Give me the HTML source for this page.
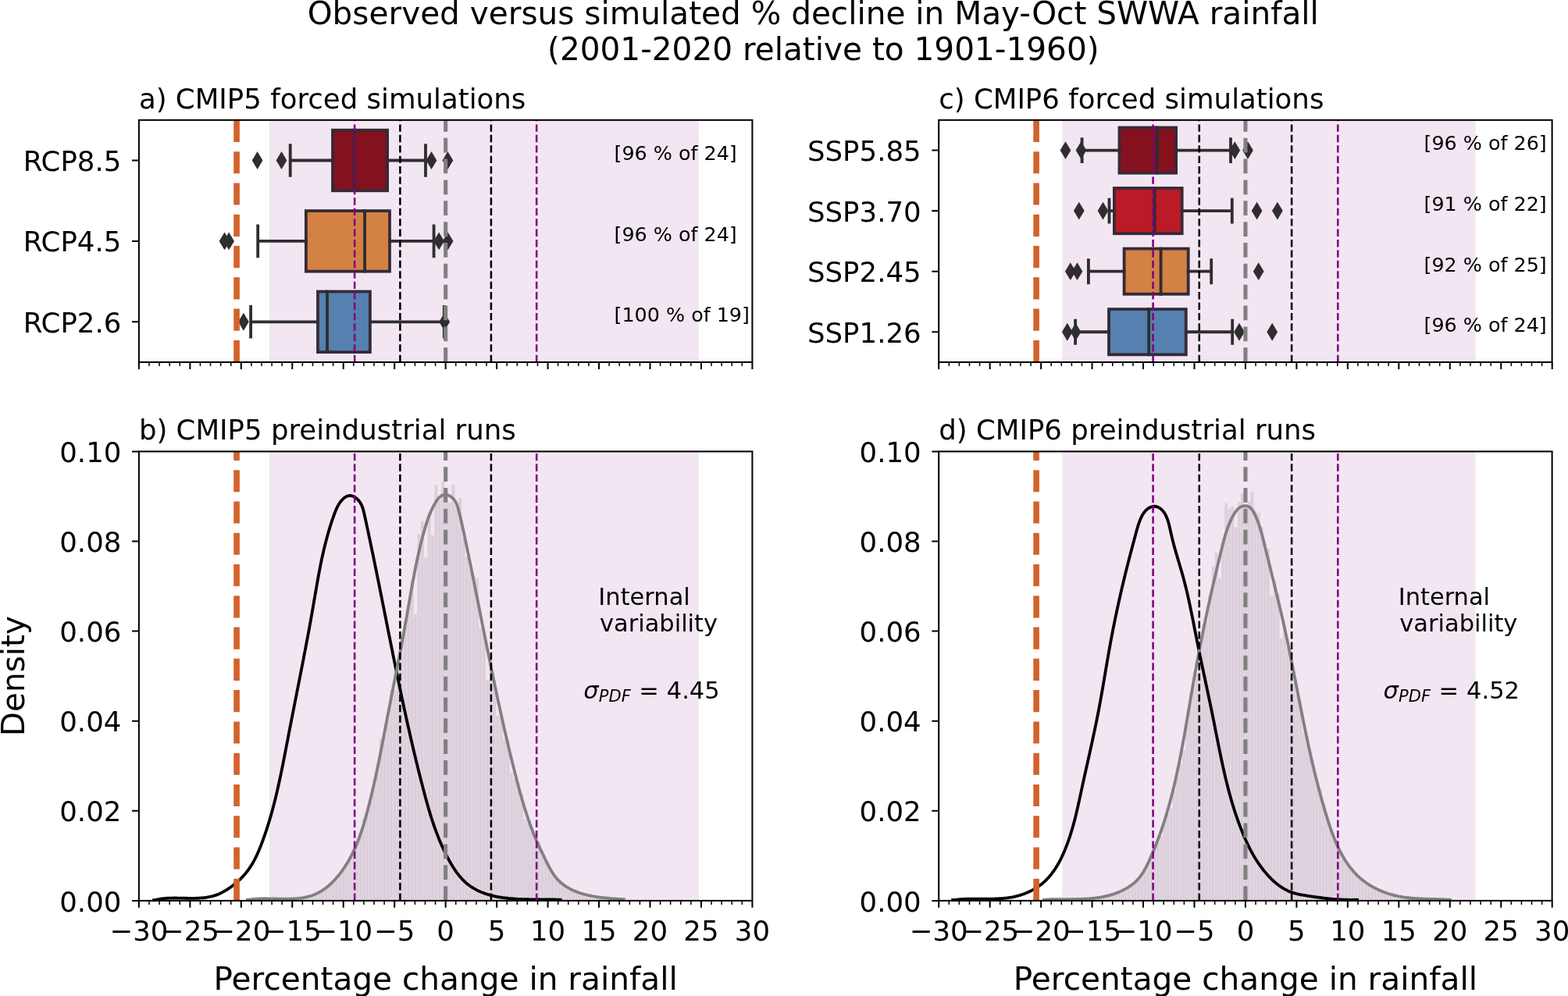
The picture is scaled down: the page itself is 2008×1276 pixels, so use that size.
<!DOCTYPE html>
<html><head><meta charset="utf-8"><title>Observed versus simulated % decline in May-Oct SWWA rainfall</title>
<style>html,body{margin:0;padding:0;background:#fff;}svg{display:block;}text{font-family:"DejaVu Sans","Liberation Sans",sans-serif;}</style>
</head><body>
<svg xmlns="http://www.w3.org/2000/svg" width="2008" height="1276" viewBox="0 0 2008 1276">
<rect x="0" y="0" width="2008" height="1276" fill="#ffffff"/>
<rect x="344.82" y="153.8" width="550.11" height="310.2" fill="#f2e6f2"/>
<rect x="344.82" y="578.4" width="550.11" height="575.5" fill="#f2e6f2"/>
<rect x="1360.22" y="153.8" width="529.3" height="310.2" fill="#f2e6f2"/>
<rect x="1360.22" y="578.4" width="529.3" height="575.5" fill="#f2e6f2"/>
<path d="M371.6 1153.9 L371.6 1151.28 L375.99 1151.28 L375.99 1153.9 L375.99 1153.9 L375.99 1151.56 L380.38 1151.56 L380.38 1153.9 L380.38 1153.9 L380.38 1150.81 L384.77 1150.81 L384.77 1153.9 L384.77 1153.9 L384.77 1150.38 L389.17 1150.38 L389.17 1153.9 L389.17 1153.9 L389.17 1149.59 L393.56 1149.59 L393.56 1153.9 L393.56 1153.9 L393.56 1148.5 L397.95 1148.5 L397.95 1153.9 L397.95 1153.9 L397.95 1147.7 L402.34 1147.7 L402.34 1153.9 L402.34 1153.9 L402.34 1145.41 L406.74 1145.41 L406.74 1153.9 L406.74 1153.9 L406.74 1143.56 L411.13 1143.56 L411.13 1153.9 L411.13 1153.9 L411.13 1138.47 L415.52 1138.47 L415.52 1153.9 L415.52 1153.9 L415.52 1137.22 L419.91 1137.22 L419.91 1153.9 L419.91 1153.9 L419.91 1134.1 L424.3 1134.1 L424.3 1153.9 L424.3 1153.9 L424.3 1129.96 L428.7 1129.96 L428.7 1153.9 L428.7 1153.9 L428.7 1125.85 L433.09 1125.85 L433.09 1153.9 L433.09 1153.9 L433.09 1121.33 L437.48 1121.33 L437.48 1153.9 L437.48 1153.9 L437.48 1114.46 L441.87 1114.46 L441.87 1153.9 L441.87 1153.9 L441.87 1106.06 L446.27 1106.06 L446.27 1153.9 L446.27 1153.9 L446.27 1100.15 L450.66 1100.15 L450.66 1153.9 L450.66 1153.9 L450.66 1088.26 L455.05 1088.26 L455.05 1153.9 L455.05 1153.9 L455.05 1081.76 L459.44 1081.76 L459.44 1153.9 L459.44 1153.9 L459.44 1069.48 L463.84 1069.48 L463.84 1153.9 L463.84 1153.9 L463.84 1049.22 L468.23 1049.22 L468.23 1153.9 L468.23 1153.9 L468.23 1037.8 L472.62 1037.8 L472.62 1153.9 L472.62 1153.9 L472.62 1026.51 L477.01 1026.51 L477.01 1153.9 L477.01 1153.9 L477.01 1006.1 L481.4 1006.1 L481.4 1153.9 L481.4 1153.9 L481.4 980.5 L485.8 980.5 L485.8 1153.9 L485.8 1153.9 L485.8 946.31 L490.19 946.31 L490.19 1153.9 L490.19 1153.9 L490.19 943.22 L494.58 943.22 L494.58 1153.9 L494.58 1153.9 L494.58 920.47 L498.97 920.47 L498.97 1153.9 L498.97 1153.9 L498.97 883.72 L503.37 883.72 L503.37 1153.9 L503.37 1153.9 L503.37 884.74 L507.76 884.74 L507.76 1153.9 L507.76 1153.9 L507.76 855.34 L512.15 855.34 L512.15 1153.9 L512.15 1153.9 L512.15 815.69 L516.54 815.69 L516.54 1153.9 L516.54 1153.9 L516.54 795.99 L520.93 795.99 L520.93 1153.9 L520.93 1153.9 L520.93 778.79 L525.33 778.79 L525.33 1153.9 L525.33 1153.9 L525.33 743.41 L529.72 743.41 L529.72 1153.9 L529.72 1153.9 L529.72 786.67 L534.11 786.67 L534.11 1153.9 L534.11 1153.9 L534.11 684.2 L538.5 684.2 L538.5 1153.9 L538.5 1153.9 L538.5 667.7 L542.9 667.7 L542.9 1153.9 L542.9 1153.9 L542.9 714.61 L547.29 714.61 L547.29 1153.9 L547.29 1153.9 L547.29 657.3 L551.68 657.3 L551.68 1153.9 L551.68 1153.9 L551.68 685.8 L556.07 685.8 L556.07 1153.9 L556.07 1153.9 L556.07 621.1 L560.46 621.1 L560.46 1153.9 L560.46 1153.9 L560.46 641 L564.86 641 L564.86 1153.9 L564.86 1153.9 L564.86 617.1 L569.25 617.1 L569.25 1153.9 L569.25 1153.9 L569.25 625 L573.64 625 L573.64 1153.9 L573.64 1153.9 L573.64 643.6 L578.03 643.6 L578.03 1153.9 L578.03 1153.9 L578.03 621.1 L582.43 621.1 L582.43 1153.9 L582.43 1153.9 L582.43 648 L586.82 648 L586.82 1153.9 L586.82 1153.9 L586.82 638.1 L591.21 638.1 L591.21 1153.9 L591.21 1153.9 L591.21 688.93 L595.6 688.93 L595.6 1153.9 L595.6 1153.9 L595.6 713.3 L599.99 713.3 L599.99 1153.9 L599.99 1153.9 L599.99 728.6 L604.39 728.6 L604.39 1153.9 L604.39 1153.9 L604.39 737.17 L608.78 737.17 L608.78 1153.9 L608.78 1153.9 L608.78 740.7 L613.17 740.7 L613.17 1153.9 L613.17 1153.9 L613.17 804.4 L617.56 804.4 L617.56 1153.9 L617.56 1153.9 L617.56 809.75 L621.96 809.75 L621.96 1153.9 L621.96 1153.9 L621.96 871.07 L626.35 871.07 L626.35 1153.9 L626.35 1153.9 L626.35 846.9 L630.74 846.9 L630.74 1153.9 L630.74 1153.9 L630.74 871 L635.13 871 L635.13 1153.9 L635.13 1153.9 L635.13 916.75 L639.53 916.75 L639.53 1153.9 L639.53 1153.9 L639.53 916.94 L643.92 916.94 L643.92 1153.9 L643.92 1153.9 L643.92 946.46 L648.31 946.46 L648.31 1153.9 L648.31 1153.9 L648.31 948.88 L652.7 948.88 L652.7 1153.9 L652.7 1153.9 L652.7 990.48 L657.09 990.48 L657.09 1153.9 L657.09 1153.9 L657.09 998.09 L661.49 998.09 L661.49 1153.9 L661.49 1153.9 L661.49 1003.43 L665.88 1003.43 L665.88 1153.9 L665.88 1153.9 L665.88 1017.05 L670.27 1017.05 L670.27 1153.9 L670.27 1153.9 L670.27 1049.7 L674.66 1049.7 L674.66 1153.9 L674.66 1153.9 L674.66 1053.88 L679.06 1053.88 L679.06 1153.9 L679.06 1153.9 L679.06 1062.18 L683.45 1062.18 L683.45 1153.9 L683.45 1153.9 L683.45 1076.6 L687.84 1076.6 L687.84 1153.9 L687.84 1153.9 L687.84 1079.26 L692.23 1079.26 L692.23 1153.9 L692.23 1153.9 L692.23 1096.8 L696.62 1096.8 L696.62 1153.9 L696.62 1153.9 L696.62 1101.77 L701.02 1101.77 L701.02 1153.9 L701.02 1153.9 L701.02 1113.19 L705.41 1113.19 L705.41 1153.9 L705.41 1153.9 L705.41 1116.29 L709.8 1116.29 L709.8 1153.9 L709.8 1153.9 L709.8 1124.61 L714.19 1124.61 L714.19 1153.9 L714.19 1153.9 L714.19 1129.74 L718.59 1129.74 L718.59 1153.9 L718.59 1153.9 L718.59 1134.71 L722.98 1134.71 L722.98 1153.9 L722.98 1153.9 L722.98 1134.79 L727.37 1134.79 L727.37 1153.9 L727.37 1153.9 L727.37 1138.15 L731.76 1138.15 L731.76 1153.9 L731.76 1153.9 L731.76 1140.37 L736.15 1140.37 L736.15 1153.9 L736.15 1153.9 L736.15 1142.04 L740.55 1142.04 L740.55 1153.9 L740.55 1153.9 L740.55 1144.01 L744.94 1144.01 L744.94 1153.9 L744.94 1153.9 L744.94 1145.73 L749.33 1145.73 L749.33 1153.9 L749.33 1153.9 L749.33 1146.89 L753.72 1146.89 L753.72 1153.9 L753.72 1153.9 L753.72 1147.82 L758.12 1147.82 L758.12 1153.9 L758.12 1153.9 L758.12 1148.09 L762.51 1148.09 L762.51 1153.9 L762.51 1153.9 L762.51 1149.46 L766.9 1149.46 L766.9 1153.9 L766.9 1153.9 L766.9 1149.86 L771.29 1149.86 L771.29 1153.9 L771.29 1153.9 L771.29 1150.32 L775.69 1150.32 L775.69 1153.9 L775.69 1153.9 L775.69 1150.68 L780.08 1150.68 L780.08 1153.9 L780.08 1153.9 L780.08 1151.02 L784.47 1151.02 L784.47 1153.9 L784.47 1153.9 L784.47 1151.57 L788.86 1151.57 L788.86 1153.9 L788.86 1153.9 L788.86 1151.9 L793.25 1151.9 L793.25 1153.9 Z" fill="#dccfdc"/>
<path d="M371.6 1153.9V1151.28M375.99 1153.9V1151.56M380.38 1153.9V1150.81M384.77 1153.9V1150.38M389.17 1153.9V1149.59M393.56 1153.9V1148.5M397.95 1153.9V1147.7M402.34 1153.9V1145.41M406.74 1153.9V1143.56M411.13 1153.9V1138.47M415.52 1153.9V1137.22M419.91 1153.9V1134.1M424.3 1153.9V1129.96M428.7 1153.9V1125.85M433.09 1153.9V1121.33M437.48 1153.9V1114.46M441.87 1153.9V1106.06M446.27 1153.9V1100.15M450.66 1153.9V1088.26M455.05 1153.9V1081.76M459.44 1153.9V1069.48M463.84 1153.9V1049.22M468.23 1153.9V1037.8M472.62 1153.9V1026.51M477.01 1153.9V1006.1M481.4 1153.9V980.5M485.8 1153.9V946.31M490.19 1153.9V943.22M494.58 1153.9V920.47M498.97 1153.9V883.72M503.37 1153.9V884.74M507.76 1153.9V855.34M512.15 1153.9V815.69M516.54 1153.9V795.99M520.93 1153.9V778.79M525.33 1153.9V743.41M529.72 1153.9V786.67M534.11 1153.9V684.2M538.5 1153.9V667.7M542.9 1153.9V714.61M547.29 1153.9V657.3M551.68 1153.9V685.8M556.07 1153.9V621.1M560.46 1153.9V641M564.86 1153.9V617.1M569.25 1153.9V625M573.64 1153.9V643.6M578.03 1153.9V621.1M582.43 1153.9V648M586.82 1153.9V638.1M591.21 1153.9V688.93M595.6 1153.9V713.3M599.99 1153.9V728.6M604.39 1153.9V737.17M608.78 1153.9V740.7M613.17 1153.9V804.4M617.56 1153.9V809.75M621.96 1153.9V871.07M626.35 1153.9V846.9M630.74 1153.9V871M635.13 1153.9V916.75M639.53 1153.9V916.94M643.92 1153.9V946.46M648.31 1153.9V948.88M652.7 1153.9V990.48M657.09 1153.9V998.09M661.49 1153.9V1003.43M665.88 1153.9V1017.05M670.27 1153.9V1049.7M674.66 1153.9V1053.88M679.06 1153.9V1062.18M683.45 1153.9V1076.6M687.84 1153.9V1079.26M692.23 1153.9V1096.8M696.62 1153.9V1101.77M701.02 1153.9V1113.19M705.41 1153.9V1116.29M709.8 1153.9V1124.61M714.19 1153.9V1129.74M718.59 1153.9V1134.71M722.98 1153.9V1134.79M727.37 1153.9V1138.15M731.76 1153.9V1140.37M736.15 1153.9V1142.04M740.55 1153.9V1144.01M744.94 1153.9V1145.73M749.33 1153.9V1146.89M753.72 1153.9V1147.82M758.12 1153.9V1148.09M762.51 1153.9V1149.46M766.9 1153.9V1149.86M771.29 1153.9V1150.32M775.69 1153.9V1150.68M780.08 1153.9V1151.02M784.47 1153.9V1151.57M788.86 1153.9V1151.9" stroke="#ffffff" stroke-opacity="0.3" stroke-width="0.8" fill="none"/>
<path d="M1397.84 1153.9 L1397.84 1150.8 L1401.99 1150.8 L1401.99 1153.9 L1401.99 1153.9 L1401.99 1150.09 L1406.14 1150.09 L1406.14 1153.9 L1406.14 1153.9 L1406.14 1149.47 L1410.29 1149.47 L1410.29 1153.9 L1410.29 1153.9 L1410.29 1149.08 L1414.44 1149.08 L1414.44 1153.9 L1414.44 1153.9 L1414.44 1148.16 L1418.59 1148.16 L1418.59 1153.9 L1418.59 1153.9 L1418.59 1147.21 L1422.74 1147.21 L1422.74 1153.9 L1422.74 1153.9 L1422.74 1145.62 L1426.89 1145.62 L1426.89 1153.9 L1426.89 1153.9 L1426.89 1144.45 L1431.04 1144.45 L1431.04 1153.9 L1431.04 1153.9 L1431.04 1142.43 L1435.19 1142.43 L1435.19 1153.9 L1435.19 1153.9 L1435.19 1142.05 L1439.34 1142.05 L1439.34 1153.9 L1439.34 1153.9 L1439.34 1137.78 L1443.49 1137.78 L1443.49 1153.9 L1443.49 1153.9 L1443.49 1136.49 L1447.64 1136.49 L1447.64 1153.9 L1447.64 1153.9 L1447.64 1132.92 L1451.79 1132.92 L1451.79 1153.9 L1451.79 1153.9 L1451.79 1130.28 L1455.94 1130.28 L1455.94 1153.9 L1455.94 1153.9 L1455.94 1126.35 L1460.09 1126.35 L1460.09 1153.9 L1460.09 1153.9 L1460.09 1119.77 L1464.24 1119.77 L1464.24 1153.9 L1464.24 1153.9 L1464.24 1112.22 L1468.39 1112.22 L1468.39 1153.9 L1468.39 1153.9 L1468.39 1106.03 L1472.54 1106.03 L1472.54 1153.9 L1472.54 1153.9 L1472.54 1096.92 L1476.69 1096.92 L1476.69 1153.9 L1476.69 1153.9 L1476.69 1084.71 L1480.84 1084.71 L1480.84 1153.9 L1480.84 1153.9 L1480.84 1079.39 L1484.99 1079.39 L1484.99 1153.9 L1484.99 1153.9 L1484.99 1071.1 L1489.14 1071.1 L1489.14 1153.9 L1489.14 1153.9 L1489.14 1050.81 L1493.29 1050.81 L1493.29 1153.9 L1493.29 1153.9 L1493.29 1042.6 L1497.44 1042.6 L1497.44 1153.9 L1497.44 1153.9 L1497.44 1035.52 L1501.59 1035.52 L1501.59 1153.9 L1501.59 1153.9 L1501.59 1013.13 L1505.74 1013.13 L1505.74 1153.9 L1505.74 1153.9 L1505.74 992.93 L1509.89 992.93 L1509.89 1153.9 L1509.89 1153.9 L1509.89 979.22 L1514.04 979.22 L1514.04 1153.9 L1514.04 1153.9 L1514.04 961.12 L1518.19 961.12 L1518.19 1153.9 L1518.19 1153.9 L1518.19 923.13 L1522.34 923.13 L1522.34 1153.9 L1522.34 1153.9 L1522.34 888.95 L1526.49 888.95 L1526.49 1153.9 L1526.49 1153.9 L1526.49 878.58 L1530.64 878.58 L1530.64 1153.9 L1530.64 1153.9 L1530.64 863.17 L1534.79 863.17 L1534.79 1153.9 L1534.79 1153.9 L1534.79 825.75 L1538.94 825.75 L1538.94 1153.9 L1538.94 1153.9 L1538.94 799.52 L1543.09 799.52 L1543.09 1153.9 L1543.09 1153.9 L1543.09 795.81 L1547.24 795.81 L1547.24 1153.9 L1547.24 1153.9 L1547.24 762.33 L1551.39 762.33 L1551.39 1153.9 L1551.39 1153.9 L1551.39 724.9 L1555.54 724.9 L1555.54 1153.9 L1555.54 1153.9 L1555.54 707.9 L1559.69 707.9 L1559.69 1153.9 L1559.69 1153.9 L1559.69 740.8 L1563.84 740.8 L1563.84 1153.9 L1563.84 1153.9 L1563.84 694.96 L1567.99 694.96 L1567.99 1153.9 L1567.99 1153.9 L1567.99 644.8 L1572.14 644.8 L1572.14 1153.9 L1572.14 1153.9 L1572.14 651.99 L1576.29 651.99 L1576.29 1153.9 L1576.29 1153.9 L1576.29 649.2 L1580.44 649.2 L1580.44 1153.9 L1580.44 1153.9 L1580.44 675.18 L1584.59 675.18 L1584.59 1153.9 L1584.59 1153.9 L1584.59 643.2 L1588.74 643.2 L1588.74 1153.9 L1588.74 1153.9 L1588.74 632.2 L1592.89 632.2 L1592.89 1153.9 L1592.89 1153.9 L1592.89 650.26 L1597.04 650.26 L1597.04 1153.9 L1597.04 1153.9 L1597.04 642.21 L1601.19 642.21 L1601.19 1153.9 L1601.19 1153.9 L1601.19 630 L1605.34 630 L1605.34 1153.9 L1605.34 1153.9 L1605.34 654.1 L1609.49 654.1 L1609.49 1153.9 L1609.49 1153.9 L1609.49 657.28 L1613.64 657.28 L1613.64 1153.9 L1613.64 1153.9 L1613.64 675 L1617.79 675 L1617.79 1153.9 L1617.79 1153.9 L1617.79 696.29 L1621.95 696.29 L1621.95 1153.9 L1621.95 1153.9 L1621.95 702.47 L1626.1 702.47 L1626.1 1153.9 L1626.1 1153.9 L1626.1 763.08 L1630.25 763.08 L1630.25 1153.9 L1630.25 1153.9 L1630.25 743.42 L1634.4 743.42 L1634.4 1153.9 L1634.4 1153.9 L1634.4 760.99 L1638.55 760.99 L1638.55 1153.9 L1638.55 1153.9 L1638.55 818.16 L1642.7 818.16 L1642.7 1153.9 L1642.7 1153.9 L1642.7 801.43 L1646.85 801.43 L1646.85 1153.9 L1646.85 1153.9 L1646.85 829.68 L1651 829.68 L1651 1153.9 L1651 1153.9 L1651 834.95 L1655.15 834.95 L1655.15 1153.9 L1655.15 1153.9 L1655.15 872.25 L1659.3 872.25 L1659.3 1153.9 L1659.3 1153.9 L1659.3 887.69 L1663.45 887.69 L1663.45 1153.9 L1663.45 1153.9 L1663.45 904.57 L1667.6 904.57 L1667.6 1153.9 L1667.6 1153.9 L1667.6 937.86 L1671.75 937.86 L1671.75 1153.9 L1671.75 1153.9 L1671.75 943.08 L1675.9 943.08 L1675.9 1153.9 L1675.9 1153.9 L1675.9 968.38 L1680.05 968.38 L1680.05 1153.9 L1680.05 1153.9 L1680.05 981.5 L1684.2 981.5 L1684.2 1153.9 L1684.2 1153.9 L1684.2 1005.61 L1688.35 1005.61 L1688.35 1153.9 L1688.35 1153.9 L1688.35 1011 L1692.5 1011 L1692.5 1153.9 L1692.5 1153.9 L1692.5 1029.15 L1696.65 1029.15 L1696.65 1153.9 L1696.65 1153.9 L1696.65 1047.24 L1700.8 1047.24 L1700.8 1153.9 L1700.8 1153.9 L1700.8 1056.49 L1704.95 1056.49 L1704.95 1153.9 L1704.95 1153.9 L1704.95 1065.95 L1709.1 1065.95 L1709.1 1153.9 L1709.1 1153.9 L1709.1 1074.89 L1713.25 1074.89 L1713.25 1153.9 L1713.25 1153.9 L1713.25 1094.26 L1717.4 1094.26 L1717.4 1153.9 L1717.4 1153.9 L1717.4 1095.12 L1721.55 1095.12 L1721.55 1153.9 L1721.55 1153.9 L1721.55 1103.07 L1725.7 1103.07 L1725.7 1153.9 L1725.7 1153.9 L1725.7 1110.22 L1729.85 1110.22 L1729.85 1153.9 L1729.85 1153.9 L1729.85 1117 L1734 1117 L1734 1153.9 L1734 1153.9 L1734 1117.85 L1738.15 1117.85 L1738.15 1153.9 L1738.15 1153.9 L1738.15 1125.55 L1742.3 1125.55 L1742.3 1153.9 L1742.3 1153.9 L1742.3 1126.71 L1746.45 1126.71 L1746.45 1153.9 L1746.45 1153.9 L1746.45 1129.15 L1750.6 1129.15 L1750.6 1153.9 L1750.6 1153.9 L1750.6 1134.81 L1754.75 1134.81 L1754.75 1153.9 L1754.75 1153.9 L1754.75 1136.04 L1758.9 1136.04 L1758.9 1153.9 L1758.9 1153.9 L1758.9 1138.95 L1763.05 1138.95 L1763.05 1153.9 L1763.05 1153.9 L1763.05 1139.84 L1767.2 1139.84 L1767.2 1153.9 L1767.2 1153.9 L1767.2 1140.95 L1771.35 1140.95 L1771.35 1153.9 L1771.35 1153.9 L1771.35 1142.41 L1775.5 1142.41 L1775.5 1153.9 L1775.5 1153.9 L1775.5 1145.53 L1779.65 1145.53 L1779.65 1153.9 L1779.65 1153.9 L1779.65 1146.27 L1783.8 1146.27 L1783.8 1153.9 L1783.8 1153.9 L1783.8 1146.95 L1787.95 1146.95 L1787.95 1153.9 L1787.95 1153.9 L1787.95 1147.71 L1792.1 1147.71 L1792.1 1153.9 L1792.1 1153.9 L1792.1 1148.85 L1796.25 1148.85 L1796.25 1153.9 L1796.25 1153.9 L1796.25 1149.77 L1800.4 1149.77 L1800.4 1153.9 L1800.4 1153.9 L1800.4 1150.13 L1804.55 1150.13 L1804.55 1153.9 L1804.55 1153.9 L1804.55 1150.63 L1808.7 1150.63 L1808.7 1153.9 L1808.7 1153.9 L1808.7 1151 L1812.85 1151 L1812.85 1153.9 L1812.85 1153.9 L1812.85 1151.33 L1817 1151.33 L1817 1153.9 L1817 1153.9 L1817 1151.41 L1821.15 1151.41 L1821.15 1153.9 Z" fill="#dccfdc"/>
<path d="M1397.84 1153.9V1150.8M1401.99 1153.9V1150.09M1406.14 1153.9V1149.47M1410.29 1153.9V1149.08M1414.44 1153.9V1148.16M1418.59 1153.9V1147.21M1422.74 1153.9V1145.62M1426.89 1153.9V1144.45M1431.04 1153.9V1142.43M1435.19 1153.9V1142.05M1439.34 1153.9V1137.78M1443.49 1153.9V1136.49M1447.64 1153.9V1132.92M1451.79 1153.9V1130.28M1455.94 1153.9V1126.35M1460.09 1153.9V1119.77M1464.24 1153.9V1112.22M1468.39 1153.9V1106.03M1472.54 1153.9V1096.92M1476.69 1153.9V1084.71M1480.84 1153.9V1079.39M1484.99 1153.9V1071.1M1489.14 1153.9V1050.81M1493.29 1153.9V1042.6M1497.44 1153.9V1035.52M1501.59 1153.9V1013.13M1505.74 1153.9V992.93M1509.89 1153.9V979.22M1514.04 1153.9V961.12M1518.19 1153.9V923.13M1522.34 1153.9V888.95M1526.49 1153.9V878.58M1530.64 1153.9V863.17M1534.79 1153.9V825.75M1538.94 1153.9V799.52M1543.09 1153.9V795.81M1547.24 1153.9V762.33M1551.39 1153.9V724.9M1555.54 1153.9V707.9M1559.69 1153.9V740.8M1563.84 1153.9V694.96M1567.99 1153.9V644.8M1572.14 1153.9V651.99M1576.29 1153.9V649.2M1580.44 1153.9V675.18M1584.59 1153.9V643.2M1588.74 1153.9V632.2M1592.89 1153.9V650.26M1597.04 1153.9V642.21M1601.19 1153.9V630M1605.34 1153.9V654.1M1609.49 1153.9V657.28M1613.64 1153.9V675M1617.79 1153.9V696.29M1621.95 1153.9V702.47M1626.1 1153.9V763.08M1630.25 1153.9V743.42M1634.4 1153.9V760.99M1638.55 1153.9V818.16M1642.7 1153.9V801.43M1646.85 1153.9V829.68M1651 1153.9V834.95M1655.15 1153.9V872.25M1659.3 1153.9V887.69M1663.45 1153.9V904.57M1667.6 1153.9V937.86M1671.75 1153.9V943.08M1675.9 1153.9V968.38M1680.05 1153.9V981.5M1684.2 1153.9V1005.61M1688.35 1153.9V1011M1692.5 1153.9V1029.15M1696.65 1153.9V1047.24M1700.8 1153.9V1056.49M1704.95 1153.9V1065.95M1709.1 1153.9V1074.89M1713.25 1153.9V1094.26M1717.4 1153.9V1095.12M1721.55 1153.9V1103.07M1725.7 1153.9V1110.22M1729.85 1153.9V1117M1734 1153.9V1117.85M1738.15 1153.9V1125.55M1742.3 1153.9V1126.71M1746.45 1153.9V1129.15M1750.6 1153.9V1134.81M1754.75 1153.9V1136.04M1758.9 1153.9V1138.95M1763.05 1153.9V1139.84M1767.2 1153.9V1140.95M1771.35 1153.9V1142.41M1775.5 1153.9V1145.53M1779.65 1153.9V1146.27M1783.8 1153.9V1146.95M1787.95 1153.9V1147.71M1792.1 1153.9V1148.85M1796.25 1153.9V1149.77M1800.4 1153.9V1150.13M1804.55 1153.9V1150.63M1808.7 1153.9V1151M1812.85 1153.9V1151.33M1817 1153.9V1151.41" stroke="#ffffff" stroke-opacity="0.3" stroke-width="0.8" fill="none"/>
<rect x="426" y="166.72" width="70.1" height="77.55" fill="#85111f" stroke="#362a37" stroke-width="3.81"/>
<rect x="391.9" y="270.12" width="107.1" height="77.55" fill="#d38244" stroke="#362a37" stroke-width="3.81"/>
<rect x="407" y="373.53" width="66.9" height="77.55" fill="#5580b0" stroke="#362a37" stroke-width="3.81"/>
<path d="M371.7 205.5H426M496.1 205.5H545M371.7 186.11V224.89M545 186.11V224.89M453.9 166.72V244.28" stroke="#2e2e2e" stroke-width="3.81" stroke-linecap="square" fill="none"/>
<path d="M329.6 194.05L336.47 205.5L329.6 216.95L322.73 205.5Z" fill="#2e2e2e"/>
<path d="M360.5 194.05L367.37 205.5L360.5 216.95L353.63 205.5Z" fill="#2e2e2e"/>
<path d="M552.5 194.05L559.37 205.5L552.5 216.95L545.63 205.5Z" fill="#2e2e2e"/>
<path d="M573.4 194.05L580.27 205.5L573.4 216.95L566.53 205.5Z" fill="#2e2e2e"/>
<path d="M330.2 308.9H391.9M499 308.9H555.6M330.2 289.51V328.29M555.6 289.51V328.29M467.1 270.12V347.67" stroke="#2e2e2e" stroke-width="3.81" stroke-linecap="square" fill="none"/>
<path d="M287.5 297.45L294.37 308.9L287.5 320.35L280.63 308.9Z" fill="#2e2e2e"/>
<path d="M293.1 297.45L299.97 308.9L293.1 320.35L286.23 308.9Z" fill="#2e2e2e"/>
<path d="M562.1 297.45L568.97 308.9L562.1 320.35L555.23 308.9Z" fill="#2e2e2e"/>
<path d="M573.6 297.45L580.47 308.9L573.6 320.35L566.73 308.9Z" fill="#2e2e2e"/>
<path d="M321.1 412.3H407M473.9 412.3H568.8M321.1 392.91V431.69M568.8 392.91V431.69M419 373.53V451.07" stroke="#2e2e2e" stroke-width="3.81" stroke-linecap="square" fill="none"/>
<path d="M311.9 400.85L318.77 412.3L311.9 423.75L305.03 412.3Z" fill="#2e2e2e"/>
<path d="M569.2 400.85L576.07 412.3L569.2 423.75L562.33 412.3Z" fill="#2e2e2e"/>
<rect x="1433.5" y="163.49" width="72.6" height="58.16" fill="#85111f" stroke="#362a37" stroke-width="3.81"/>
<rect x="1426.9" y="241.04" width="86.8" height="58.16" fill="#bb1a28" stroke="#362a37" stroke-width="3.81"/>
<rect x="1439.6" y="318.59" width="82.1" height="58.16" fill="#d38244" stroke="#362a37" stroke-width="3.81"/>
<rect x="1420" y="396.14" width="98.8" height="58.16" fill="#5580b0" stroke="#362a37" stroke-width="3.81"/>
<path d="M1385.6 192.58H1433.5M1506.1 192.58H1576M1385.6 178.03V207.12M1576 178.03V207.12M1481.7 163.49V221.66" stroke="#2e2e2e" stroke-width="3.81" stroke-linecap="square" fill="none"/>
<path d="M1364.5 181.13L1371.37 192.58L1364.5 204.03L1357.63 192.58Z" fill="#2e2e2e"/>
<path d="M1384.5 181.13L1391.37 192.58L1384.5 204.03L1377.63 192.58Z" fill="#2e2e2e"/>
<path d="M1581.3 181.13L1588.17 192.58L1581.3 204.03L1574.43 192.58Z" fill="#2e2e2e"/>
<path d="M1598 181.13L1604.87 192.58L1598 204.03L1591.13 192.58Z" fill="#2e2e2e"/>
<path d="M1420.5 270.12H1426.9M1513.7 270.12H1577.8M1420.5 255.58V284.67M1577.8 255.58V284.67M1478.6 241.04V299.21" stroke="#2e2e2e" stroke-width="3.81" stroke-linecap="square" fill="none"/>
<path d="M1381.8 258.68L1388.67 270.12L1381.8 281.57L1374.93 270.12Z" fill="#2e2e2e"/>
<path d="M1412.5 258.68L1419.37 270.12L1412.5 281.57L1405.63 270.12Z" fill="#2e2e2e"/>
<path d="M1609.6 258.68L1616.47 270.12L1609.6 281.57L1602.73 270.12Z" fill="#2e2e2e"/>
<path d="M1635.9 258.68L1642.77 270.12L1635.9 281.57L1629.03 270.12Z" fill="#2e2e2e"/>
<path d="M1393.9 347.68H1439.6M1521.7 347.68H1551.2M1393.9 333.13V362.22M1551.2 333.13V362.22M1486.6 318.59V376.76" stroke="#2e2e2e" stroke-width="3.81" stroke-linecap="square" fill="none"/>
<path d="M1370.8 336.23L1377.67 347.68L1370.8 359.12L1363.93 347.68Z" fill="#2e2e2e"/>
<path d="M1379.5 336.23L1386.37 347.68L1379.5 359.12L1372.63 347.68Z" fill="#2e2e2e"/>
<path d="M1611.7 336.23L1618.57 347.68L1611.7 359.12L1604.83 347.68Z" fill="#2e2e2e"/>
<path d="M1377.1 425.23H1420M1518.8 425.23H1578.2M1377.1 410.68V439.77M1578.2 410.68V439.77M1471.2 396.14V454.31" stroke="#2e2e2e" stroke-width="3.81" stroke-linecap="square" fill="none"/>
<path d="M1366.8 413.78L1373.67 425.23L1366.8 436.68L1359.93 425.23Z" fill="#2e2e2e"/>
<path d="M1377.5 413.78L1384.37 425.23L1377.5 436.68L1370.63 425.23Z" fill="#2e2e2e"/>
<path d="M1587 413.78L1593.87 425.23L1587 436.68L1580.13 425.23Z" fill="#2e2e2e"/>
<path d="M1629.2 413.78L1636.07 425.23L1629.2 436.68L1622.33 425.23Z" fill="#2e2e2e"/>
<path d="M195 1152.7 L197.13 1153.42 L199.55 1152.79 L202 1152.26 L204.48 1151.81 L207 1151.44 L209.54 1151.15 L212.1 1150.92 L214.69 1150.75 L217.29 1150.63 L219.91 1150.56 L222.55 1150.52 L225.19 1150.52 L227.85 1150.54 L230.51 1150.58 L233.18 1150.63 L235.85 1150.69 L238.52 1150.74 L241.19 1150.78 L243.86 1150.81 L246.51 1150.82 L249.16 1150.79 L251.8 1150.73 L254.42 1150.63 L257.02 1150.47 L259.61 1150.26 L262.17 1149.99 L264.71 1149.64 L267.23 1149.22 L269.71 1148.72 L272.16 1148.12 L274.59 1147.43 L276.97 1146.63 L279.32 1145.72 L281.63 1144.72 L283.9 1143.62 L286.14 1142.43 L288.34 1141.17 L290.51 1139.83 L292.65 1138.44 L294.75 1136.98 L296.82 1135.48 L298.86 1133.93 L300.86 1132.33 L302.82 1130.69 L304.74 1129.01 L306.61 1127.28 L308.44 1125.51 L310.22 1123.69 L311.95 1121.83 L313.62 1119.93 L315.23 1117.99 L316.79 1116.01 L318.28 1113.98 L319.72 1111.92 L321.1 1109.82 L322.43 1107.69 L323.71 1105.52 L324.94 1103.32 L326.13 1101.1 L327.27 1098.85 L328.38 1096.57 L329.45 1094.28 L330.49 1091.96 L331.5 1089.63 L332.48 1087.28 L333.43 1084.92 L334.37 1082.54 L335.28 1080.16 L336.18 1077.77 L337.06 1075.37 L337.92 1072.96 L338.77 1070.55 L339.61 1068.13 L340.43 1065.71 L341.24 1063.28 L342.03 1060.84 L342.81 1058.4 L343.58 1055.95 L344.33 1053.5 L345.08 1051.04 L345.81 1048.58 L346.52 1046.11 L347.23 1043.64 L347.92 1041.16 L348.61 1038.67 L349.28 1036.19 L349.94 1033.69 L350.59 1031.2 L351.24 1028.7 L351.87 1026.19 L352.49 1023.68 L353.11 1021.17 L353.71 1018.65 L354.31 1016.13 L354.9 1013.61 L355.48 1011.08 L356.06 1008.55 L356.63 1006.02 L357.19 1003.49 L357.74 1000.95 L358.29 998.41 L358.83 995.87 L359.37 993.32 L359.9 990.78 L360.43 988.23 L360.95 985.68 L361.47 983.12 L361.99 980.57 L362.5 978.01 L363 975.46 L363.51 972.9 L364.01 970.34 L364.51 967.78 L365 965.22 L365.5 962.66 L365.99 960.1 L366.48 957.54 L366.98 954.97 L367.47 952.41 L367.96 949.85 L368.45 947.29 L368.94 944.73 L369.43 942.17 L369.92 939.61 L370.41 937.05 L370.91 934.49 L371.4 931.93 L371.9 929.37 L372.4 926.82 L372.89 924.26 L373.39 921.71 L373.89 919.15 L374.39 916.6 L374.89 914.04 L375.39 911.49 L375.9 908.94 L376.4 906.39 L376.9 903.83 L377.4 901.28 L377.91 898.73 L378.41 896.18 L378.91 893.63 L379.42 891.08 L379.92 888.54 L380.42 885.99 L380.92 883.44 L381.43 880.89 L381.93 878.34 L382.43 875.8 L382.93 873.25 L383.43 870.7 L383.94 868.16 L384.44 865.61 L384.93 863.07 L385.43 860.52 L385.93 857.98 L386.43 855.43 L386.92 852.89 L387.42 850.34 L387.91 847.8 L388.41 845.25 L388.9 842.71 L389.39 840.16 L389.88 837.62 L390.37 835.07 L390.85 832.53 L391.34 829.98 L391.82 827.44 L392.31 824.89 L392.79 822.35 L393.26 819.8 L393.74 817.26 L394.22 814.71 L394.69 812.17 L395.16 809.62 L395.63 807.08 L396.1 804.53 L396.56 801.99 L397.02 799.44 L397.49 796.89 L397.94 794.35 L398.4 791.8 L398.85 789.25 L399.3 786.7 L399.75 784.16 L400.2 781.61 L400.64 779.06 L401.08 776.51 L401.52 773.96 L401.95 771.41 L402.39 768.86 L402.82 766.31 L403.26 763.76 L403.7 761.21 L404.13 758.66 L404.57 756.11 L405.01 753.55 L405.46 751 L405.9 748.45 L406.35 745.9 L406.81 743.35 L407.27 740.81 L407.73 738.26 L408.21 735.71 L408.68 733.16 L409.17 730.61 L409.66 728.07 L410.16 725.52 L410.67 722.98 L411.19 720.43 L411.72 717.89 L412.25 715.34 L412.8 712.8 L413.36 710.26 L413.94 707.72 L414.52 705.18 L415.12 702.65 L415.73 700.11 L416.35 697.58 L416.99 695.04 L417.64 692.51 L418.31 689.98 L419 687.45 L419.7 684.92 L420.42 682.4 L421.16 679.87 L421.91 677.35 L422.68 674.83 L423.48 672.31 L424.29 669.79 L425.12 667.28 L425.97 664.76 L426.85 662.25 L427.75 659.74 L428.67 657.24 L429.64 654.77 L430.66 652.33 L431.75 649.96 L432.94 647.67 L434.22 645.48 L435.61 643.4 L437.14 641.45 L438.82 639.65 L440.65 638.01 L442.64 636.61 L444.77 635.56 L447 634.99 L449.31 635.02 L451.64 635.61 L453.92 636.68 L456.09 638.14 L458.09 639.9 L459.85 641.87 L461.34 643.99 L462.59 646.23 L463.64 648.57 L464.53 651 L465.28 653.5 L465.93 656.04 L466.52 658.61 L467.09 661.18 L467.65 663.76 L468.21 666.33 L468.77 668.9 L469.32 671.47 L469.87 674.03 L470.42 676.59 L470.97 679.15 L471.51 681.7 L472.06 684.25 L472.6 686.8 L473.14 689.35 L473.67 691.9 L474.21 694.44 L474.74 696.99 L475.27 699.53 L475.8 702.07 L476.33 704.61 L476.86 707.14 L477.38 709.68 L477.91 712.22 L478.43 714.75 L478.95 717.29 L479.47 719.82 L479.99 722.35 L480.51 724.89 L481.02 727.42 L481.54 729.95 L482.05 732.49 L482.57 735.02 L483.08 737.55 L483.59 740.09 L484.1 742.62 L484.61 745.16 L485.12 747.7 L485.63 750.23 L486.14 752.77 L486.65 755.31 L487.16 757.85 L487.67 760.39 L488.18 762.93 L488.68 765.47 L489.19 768.01 L489.7 770.55 L490.2 773.1 L490.71 775.64 L491.22 778.18 L491.72 780.73 L492.23 783.27 L492.73 785.81 L493.24 788.36 L493.75 790.9 L494.25 793.45 L494.76 796 L495.27 798.54 L495.77 801.09 L496.28 803.64 L496.79 806.18 L497.29 808.73 L497.8 811.28 L498.31 813.82 L498.82 816.37 L499.33 818.92 L499.84 821.47 L500.35 824.01 L500.86 826.56 L501.37 829.11 L501.88 831.66 L502.39 834.21 L502.91 836.75 L503.42 839.3 L503.94 841.85 L504.45 844.4 L504.97 846.95 L505.49 849.49 L506 852.04 L506.52 854.59 L507.04 857.14 L507.56 859.69 L508.09 862.23 L508.61 864.78 L509.14 867.33 L509.66 869.87 L510.19 872.42 L510.72 874.96 L511.25 877.51 L511.78 880.06 L512.31 882.6 L512.85 885.14 L513.38 887.69 L513.92 890.23 L514.46 892.78 L515 895.32 L515.54 897.86 L516.08 900.4 L516.63 902.94 L517.17 905.49 L517.72 908.03 L518.27 910.57 L518.82 913.11 L519.38 915.64 L519.93 918.18 L520.49 920.72 L521.05 923.26 L521.61 925.79 L522.18 928.33 L522.74 930.86 L523.31 933.4 L523.88 935.93 L524.46 938.46 L525.03 941 L525.61 943.53 L526.19 946.06 L526.77 948.59 L527.35 951.12 L527.94 953.64 L528.53 956.17 L529.12 958.7 L529.71 961.22 L530.31 963.75 L530.91 966.27 L531.51 968.79 L532.12 971.31 L532.72 973.83 L533.33 976.35 L533.95 978.87 L534.56 981.39 L535.18 983.9 L535.8 986.42 L536.43 988.93 L537.05 991.44 L537.69 993.95 L538.32 996.46 L538.96 998.97 L539.6 1001.48 L540.24 1003.99 L540.88 1006.49 L541.53 1008.99 L542.19 1011.5 L542.84 1014 L543.5 1016.5 L544.17 1019 L544.84 1021.49 L545.52 1023.98 L546.2 1026.48 L546.9 1028.96 L547.6 1031.45 L548.31 1033.93 L549.03 1036.41 L549.76 1038.89 L550.5 1041.36 L551.26 1043.83 L552.02 1046.29 L552.81 1048.76 L553.6 1051.21 L554.41 1053.66 L555.23 1056.11 L556.07 1058.56 L556.93 1060.99 L557.8 1063.43 L558.69 1065.85 L559.61 1068.27 L560.54 1070.69 L561.49 1073.1 L562.46 1075.5 L563.45 1077.9 L564.46 1080.29 L565.5 1082.67 L566.56 1085.05 L567.65 1087.42 L568.76 1089.78 L569.89 1092.14 L571.06 1094.48 L572.24 1096.82 L573.46 1099.15 L574.71 1101.47 L575.98 1103.78 L577.29 1106.06 L578.63 1108.33 L580.01 1110.56 L581.42 1112.76 L582.87 1114.93 L584.36 1117.05 L585.9 1119.13 L587.47 1121.15 L589.09 1123.12 L590.76 1125.03 L592.48 1126.88 L594.24 1128.66 L596.06 1130.36 L597.93 1131.99 L599.86 1133.54 L601.83 1135 L603.86 1136.39 L605.94 1137.7 L608.07 1138.94 L610.24 1140.11 L612.45 1141.2 L614.7 1142.23 L617 1143.19 L619.33 1144.09 L621.7 1144.93 L624.1 1145.71 L626.54 1146.44 L629 1147.11 L631.5 1147.72 L634.02 1148.29 L636.56 1148.81 L639.13 1149.28 L641.71 1149.71 L644.32 1150.09 L646.94 1150.44 L649.58 1150.75 L652.23 1151.03 L654.89 1151.27 L657.57 1151.48 L660.24 1151.66 L662.93 1151.81 L665.62 1151.95 L668.31 1152.05 L670.99 1152.14 L673.68 1152.21 L676.36 1152.27 L679.04 1152.31 L681.71 1152.34 L684.37 1152.36 L687.02 1152.37 L689.65 1152.38 L692.27 1152.38 L694.87 1152.39 L697.45 1152.39 L700.01 1152.4 L702.55 1152.42 L705.06 1152.44 L707.55 1152.47 L710.01 1152.52 L712.43 1152.57 L714.83 1152.65 L717.19 1152.74 L719.51 1152.86 L720 1152.7" stroke="#000000" stroke-width="3.81" fill="none" stroke-linejoin="round"/>
<path d="M315 1152.7 L318.96 1152.67 L321.3 1152.32 L323.68 1152.02 L326.08 1151.78 L328.51 1151.6 L330.97 1151.46 L333.44 1151.36 L335.94 1151.29 L338.45 1151.26 L340.98 1151.26 L343.53 1151.28 L346.08 1151.31 L348.65 1151.36 L351.22 1151.41 L353.8 1151.47 L356.38 1151.53 L358.96 1151.57 L361.54 1151.61 L364.12 1151.63 L366.69 1151.63 L369.26 1151.6 L371.82 1151.55 L374.37 1151.45 L376.9 1151.32 L379.42 1151.14 L381.92 1150.91 L384.4 1150.62 L386.86 1150.28 L389.3 1149.87 L391.71 1149.39 L394.09 1148.84 L396.45 1148.2 L398.77 1147.49 L401.05 1146.68 L403.31 1145.78 L405.52 1144.79 L407.7 1143.7 L409.84 1142.52 L411.94 1141.26 L414 1139.92 L416.02 1138.49 L418.01 1137 L419.95 1135.43 L421.86 1133.8 L423.73 1132.11 L425.56 1130.36 L427.35 1128.55 L429.1 1126.69 L430.81 1124.78 L432.48 1122.83 L434.11 1120.84 L435.7 1118.81 L437.25 1116.75 L438.76 1114.67 L440.23 1112.55 L441.65 1110.42 L443.04 1108.27 L444.39 1106.1 L445.69 1103.92 L446.96 1101.73 L448.19 1099.53 L449.38 1097.31 L450.53 1095.09 L451.65 1092.85 L452.74 1090.6 L453.79 1088.35 L454.82 1086.08 L455.81 1083.8 L456.78 1081.51 L457.71 1079.22 L458.63 1076.91 L459.51 1074.6 L460.37 1072.27 L461.21 1069.94 L462.03 1067.61 L462.82 1065.26 L463.6 1062.91 L464.35 1060.55 L465.09 1058.19 L465.82 1055.82 L466.52 1053.45 L467.22 1051.07 L467.9 1048.68 L468.57 1046.29 L469.23 1043.9 L469.88 1041.5 L470.52 1039.1 L471.16 1036.69 L471.78 1034.29 L472.4 1031.88 L473.02 1029.46 L473.62 1027.04 L474.22 1024.62 L474.81 1022.2 L475.4 1019.78 L475.98 1017.35 L476.56 1014.92 L477.13 1012.48 L477.69 1010.05 L478.25 1007.61 L478.8 1005.17 L479.35 1002.73 L479.89 1000.28 L480.43 997.84 L480.96 995.39 L481.49 992.94 L482.01 990.49 L482.54 988.03 L483.05 985.58 L483.56 983.12 L484.07 980.66 L484.58 978.2 L485.08 975.74 L485.58 973.28 L486.08 970.82 L486.57 968.35 L487.06 965.89 L487.55 963.42 L488.03 960.95 L488.52 958.49 L489 956.02 L489.48 953.55 L489.96 951.08 L490.44 948.61 L490.91 946.14 L491.39 943.67 L491.86 941.2 L492.33 938.73 L492.8 936.26 L493.28 933.79 L493.75 931.32 L494.22 928.85 L494.69 926.38 L495.16 923.92 L495.63 921.45 L496.1 918.98 L496.58 916.51 L497.05 914.05 L497.53 911.58 L498 909.12 L498.48 906.65 L498.96 904.19 L499.44 901.73 L499.92 899.27 L500.4 896.81 L500.88 894.35 L501.36 891.89 L501.85 889.43 L502.33 886.98 L502.81 884.52 L503.3 882.06 L503.78 879.61 L504.27 877.15 L504.75 874.7 L505.24 872.24 L505.72 869.79 L506.21 867.33 L506.69 864.88 L507.18 862.42 L507.66 859.97 L508.14 857.52 L508.62 855.06 L509.11 852.61 L509.59 850.15 L510.06 847.7 L510.54 845.24 L511.02 842.79 L511.5 840.33 L511.97 837.88 L512.44 835.42 L512.92 832.96 L513.39 830.5 L513.85 828.05 L514.32 825.59 L514.79 823.13 L515.25 820.67 L515.71 818.2 L516.17 815.74 L516.62 813.28 L517.08 810.82 L517.53 808.35 L517.98 805.88 L518.42 803.42 L518.87 800.95 L519.31 798.48 L519.75 796.01 L520.18 793.54 L520.61 791.06 L521.05 788.59 L521.48 786.12 L521.91 783.64 L522.34 781.16 L522.76 778.69 L523.19 776.21 L523.62 773.74 L524.05 771.26 L524.48 768.78 L524.91 766.31 L525.34 763.83 L525.77 761.36 L526.21 758.88 L526.65 756.41 L527.09 753.93 L527.53 751.46 L527.98 748.99 L528.43 746.52 L528.88 744.05 L529.34 741.58 L529.81 739.12 L530.27 736.65 L530.75 734.19 L531.23 731.73 L531.71 729.27 L532.2 726.81 L532.7 724.35 L533.2 721.9 L533.71 719.45 L534.23 717 L534.76 714.55 L535.29 712.11 L535.83 709.67 L536.38 707.23 L536.94 704.79 L537.51 702.36 L538.09 699.93 L538.68 697.51 L539.28 695.08 L539.88 692.66 L540.5 690.25 L541.13 687.84 L541.78 685.43 L542.43 683.03 L543.1 680.63 L543.77 678.23 L544.47 675.84 L545.18 673.45 L545.92 671.07 L546.69 668.69 L547.49 666.32 L548.33 663.95 L549.21 661.59 L550.14 659.23 L551.11 656.87 L552.14 654.52 L553.23 652.17 L554.39 649.83 L555.61 647.5 L556.9 645.16 L558.27 642.86 L559.73 640.66 L561.3 638.65 L562.98 636.89 L564.8 635.46 L566.75 634.45 L568.82 633.89 L570.96 633.8 L573.13 634.19 L575.27 635.02 L577.34 636.23 L579.28 637.76 L581.05 639.55 L582.58 641.55 L583.85 643.7 L584.91 645.98 L585.8 648.35 L586.56 650.8 L587.23 653.29 L587.86 655.79 L588.47 658.29 L589.07 660.79 L589.66 663.27 L590.25 665.75 L590.82 668.23 L591.38 670.7 L591.94 673.17 L592.49 675.63 L593.03 678.09 L593.57 680.55 L594.1 683.01 L594.62 685.46 L595.15 687.91 L595.66 690.36 L596.18 692.81 L596.69 695.25 L597.2 697.7 L597.7 700.15 L598.21 702.6 L598.71 705.05 L599.22 707.49 L599.72 709.94 L600.22 712.39 L600.72 714.84 L601.22 717.29 L601.72 719.74 L602.22 722.19 L602.72 724.65 L603.21 727.1 L603.71 729.55 L604.2 732 L604.7 734.46 L605.19 736.91 L605.69 739.36 L606.18 741.82 L606.67 744.27 L607.17 746.72 L607.66 749.18 L608.15 751.63 L608.64 754.09 L609.13 756.54 L609.62 759 L610.11 761.46 L610.6 763.91 L611.09 766.37 L611.58 768.83 L612.07 771.28 L612.56 773.74 L613.05 776.2 L613.54 778.65 L614.03 781.11 L614.52 783.57 L615.01 786.03 L615.5 788.49 L615.98 790.94 L616.47 793.4 L616.96 795.86 L617.45 798.32 L617.95 800.78 L618.44 803.23 L618.93 805.69 L619.42 808.15 L619.91 810.61 L620.4 813.07 L620.9 815.53 L621.39 817.99 L621.88 820.44 L622.38 822.9 L622.87 825.36 L623.37 827.82 L623.87 830.28 L624.36 832.74 L624.86 835.19 L625.36 837.65 L625.86 840.11 L626.36 842.57 L626.86 845.03 L627.37 847.48 L627.87 849.94 L628.37 852.4 L628.88 854.86 L629.38 857.31 L629.89 859.77 L630.4 862.23 L630.91 864.68 L631.42 867.14 L631.93 869.6 L632.45 872.05 L632.96 874.51 L633.48 876.96 L634 879.42 L634.51 881.87 L635.03 884.33 L635.56 886.78 L636.08 889.24 L636.6 891.69 L637.13 894.14 L637.66 896.6 L638.19 899.05 L638.72 901.5 L639.25 903.96 L639.79 906.41 L640.32 908.86 L640.86 911.31 L641.4 913.76 L641.94 916.21 L642.49 918.66 L643.03 921.11 L643.58 923.56 L644.13 926.01 L644.68 928.46 L645.24 930.9 L645.79 933.35 L646.35 935.8 L646.91 938.24 L647.47 940.69 L648.04 943.13 L648.6 945.58 L649.17 948.02 L649.75 950.47 L650.32 952.91 L650.9 955.35 L651.47 957.79 L652.06 960.23 L652.64 962.67 L653.23 965.11 L653.82 967.55 L654.41 969.99 L655 972.43 L655.6 974.87 L656.2 977.3 L656.8 979.74 L657.41 982.18 L658.01 984.61 L658.62 987.05 L659.24 989.48 L659.85 991.91 L660.47 994.34 L661.1 996.77 L661.73 999.2 L662.36 1001.63 L662.99 1004.06 L663.64 1006.48 L664.28 1008.91 L664.94 1011.33 L665.6 1013.74 L666.26 1016.16 L666.94 1018.57 L667.62 1020.98 L668.31 1023.39 L669.01 1025.79 L669.72 1028.2 L670.43 1030.59 L671.16 1032.99 L671.89 1035.37 L672.64 1037.76 L673.4 1040.14 L674.17 1042.52 L674.95 1044.89 L675.74 1047.25 L676.54 1049.62 L677.36 1051.97 L678.19 1054.32 L679.03 1056.67 L679.89 1059.01 L680.77 1061.34 L681.65 1063.67 L682.56 1065.99 L683.47 1068.31 L684.41 1070.61 L685.36 1072.91 L686.33 1075.21 L687.31 1077.5 L688.31 1079.78 L689.33 1082.05 L690.37 1084.31 L691.42 1086.58 L692.49 1088.84 L693.56 1091.11 L694.65 1093.39 L695.74 1095.67 L696.84 1097.97 L697.95 1100.28 L699.07 1102.59 L700.21 1104.91 L701.37 1107.21 L702.55 1109.49 L703.77 1111.75 L705.03 1113.98 L706.33 1116.17 L707.67 1118.31 L709.07 1120.39 L710.53 1122.41 L712.05 1124.36 L713.64 1126.23 L715.31 1128.02 L717.05 1129.72 L718.86 1131.33 L720.75 1132.86 L722.69 1134.3 L724.7 1135.67 L726.77 1136.95 L728.9 1138.17 L731.08 1139.31 L733.3 1140.38 L735.57 1141.39 L737.89 1142.33 L740.24 1143.21 L742.63 1144.03 L745.05 1144.8 L747.49 1145.51 L749.97 1146.17 L752.46 1146.77 L754.98 1147.33 L757.51 1147.85 L760.05 1148.33 L762.6 1148.76 L765.16 1149.16 L767.72 1149.52 L770.27 1149.86 L772.82 1150.16 L775.37 1150.43 L777.9 1150.68 L780.41 1150.91 L782.91 1151.12 L785.39 1151.31 L787.84 1151.49 L790.26 1151.65 L792.66 1151.81 L795.01 1151.95 L797.33 1152.1 L799.61 1152.24 L800 1152.7" stroke="#808080" stroke-width="3.81" fill="none" stroke-linejoin="round"/>
<path d="M1218 1152.7 L1220.01 1153.21 L1222.48 1152.86 L1224.95 1152.57 L1227.42 1152.32 L1229.91 1152.12 L1232.4 1151.95 L1234.9 1151.82 L1237.4 1151.72 L1239.91 1151.65 L1242.42 1151.6 L1244.94 1151.57 L1247.45 1151.56 L1249.97 1151.56 L1252.5 1151.57 L1255.02 1151.59 L1257.55 1151.6 L1260.07 1151.62 L1262.59 1151.62 L1265.11 1151.62 L1267.64 1151.61 L1270.15 1151.58 L1272.67 1151.53 L1275.18 1151.45 L1277.68 1151.35 L1280.19 1151.21 L1282.68 1151.04 L1285.17 1150.83 L1287.65 1150.57 L1290.13 1150.27 L1292.6 1149.92 L1295.06 1149.52 L1297.5 1149.06 L1299.94 1148.53 L1302.37 1147.95 L1304.79 1147.29 L1307.19 1146.57 L1309.57 1145.78 L1311.94 1144.92 L1314.27 1144 L1316.58 1143.01 L1318.86 1141.96 L1321.11 1140.83 L1323.32 1139.65 L1325.49 1138.4 L1327.61 1137.08 L1329.7 1135.69 L1331.73 1134.25 L1333.71 1132.73 L1335.63 1131.16 L1337.49 1129.52 L1339.3 1127.81 L1341.05 1126.05 L1342.74 1124.23 L1344.38 1122.35 L1345.96 1120.42 L1347.49 1118.45 L1348.98 1116.43 L1350.41 1114.37 L1351.79 1112.26 L1353.13 1110.13 L1354.43 1107.95 L1355.68 1105.75 L1356.9 1103.52 L1358.07 1101.26 L1359.2 1098.98 L1360.3 1096.69 L1361.36 1094.37 L1362.39 1092.05 L1363.39 1089.71 L1364.36 1087.37 L1365.29 1085.02 L1366.2 1082.66 L1367.09 1080.3 L1367.94 1077.94 L1368.77 1075.57 L1369.58 1073.2 L1370.36 1070.82 L1371.12 1068.45 L1371.86 1066.06 L1372.58 1063.67 L1373.29 1061.28 L1373.97 1058.89 L1374.63 1056.49 L1375.28 1054.09 L1375.92 1051.68 L1376.54 1049.28 L1377.14 1046.86 L1377.74 1044.45 L1378.32 1042.03 L1378.9 1039.62 L1379.46 1037.19 L1380.01 1034.77 L1380.56 1032.34 L1381.1 1029.92 L1381.64 1027.48 L1382.17 1025.05 L1382.7 1022.62 L1383.23 1020.18 L1383.76 1017.74 L1384.28 1015.3 L1384.81 1012.86 L1385.33 1010.42 L1385.86 1007.98 L1386.4 1005.53 L1386.93 1003.09 L1387.47 1000.64 L1388.01 998.2 L1388.55 995.75 L1389.09 993.3 L1389.63 990.85 L1390.18 988.4 L1390.72 985.95 L1391.27 983.49 L1391.82 981.04 L1392.36 978.59 L1392.91 976.13 L1393.46 973.68 L1394.01 971.23 L1394.55 968.77 L1395.1 966.32 L1395.64 963.86 L1396.18 961.4 L1396.73 958.95 L1397.27 956.49 L1397.81 954.04 L1398.34 951.58 L1398.88 949.12 L1399.41 946.67 L1399.94 944.21 L1400.46 941.76 L1400.99 939.3 L1401.51 936.84 L1402.02 934.39 L1402.54 931.93 L1403.05 929.48 L1403.55 927.03 L1404.05 924.57 L1404.55 922.12 L1405.04 919.67 L1405.53 917.22 L1406.01 914.77 L1406.49 912.32 L1406.96 909.87 L1407.42 907.42 L1407.88 904.97 L1408.34 902.53 L1408.79 900.08 L1409.23 897.63 L1409.67 895.19 L1410.11 892.74 L1410.54 890.3 L1410.97 887.85 L1411.4 885.41 L1411.83 882.96 L1412.25 880.52 L1412.67 878.07 L1413.09 875.62 L1413.51 873.18 L1413.92 870.73 L1414.34 868.28 L1414.75 865.83 L1415.17 863.37 L1415.58 860.92 L1416 858.47 L1416.42 856.01 L1416.83 853.55 L1417.25 851.1 L1417.67 848.63 L1418.09 846.17 L1418.52 843.71 L1418.95 841.24 L1419.38 838.77 L1419.81 836.3 L1420.25 833.82 L1420.69 831.35 L1421.13 828.87 L1421.58 826.38 L1422.03 823.9 L1422.49 821.41 L1422.96 818.92 L1423.42 816.42 L1423.9 813.93 L1424.38 811.43 L1424.86 808.93 L1425.35 806.42 L1425.85 803.92 L1426.35 801.41 L1426.85 798.91 L1427.36 796.4 L1427.87 793.9 L1428.39 791.39 L1428.91 788.89 L1429.44 786.39 L1429.97 783.88 L1430.5 781.39 L1431.04 778.89 L1431.58 776.4 L1432.12 773.9 L1432.67 771.42 L1433.22 768.93 L1433.78 766.46 L1434.33 763.98 L1434.89 761.51 L1435.46 759.05 L1436.02 756.59 L1436.59 754.14 L1437.16 751.69 L1437.74 749.25 L1438.31 746.82 L1438.89 744.4 L1439.47 741.98 L1440.05 739.57 L1440.64 737.17 L1441.22 734.78 L1441.81 732.4 L1442.4 730.03 L1442.99 727.66 L1443.58 725.31 L1444.18 722.97 L1444.77 720.64 L1445.37 718.32 L1445.96 716.02 L1446.56 713.71 L1447.17 711.41 L1447.77 709.1 L1448.38 706.78 L1449 704.45 L1449.62 702.11 L1450.25 699.74 L1450.89 697.35 L1451.53 694.93 L1452.19 692.48 L1452.85 689.99 L1453.53 687.46 L1454.22 684.88 L1454.92 682.26 L1455.64 679.6 L1456.39 676.93 L1457.18 674.27 L1458.02 671.63 L1458.91 669.03 L1459.86 666.51 L1460.89 664.07 L1462 661.73 L1463.21 659.52 L1464.51 657.45 L1465.92 655.55 L1467.45 653.84 L1469.11 652.32 L1470.9 651.04 L1472.84 649.99 L1474.92 649.22 L1477.12 648.76 L1479.34 648.72 L1481.51 649.14 L1483.58 650 L1485.53 651.2 L1487.31 652.64 L1488.91 654.26 L1490.35 656.05 L1491.64 657.98 L1492.79 660.05 L1493.82 662.24 L1494.74 664.53 L1495.57 666.92 L1496.33 669.37 L1497.01 671.89 L1497.65 674.45 L1498.25 677.04 L1498.83 679.65 L1499.4 682.26 L1499.98 684.85 L1500.58 687.42 L1501.19 689.97 L1501.82 692.49 L1502.46 695 L1503.11 697.48 L1503.77 699.95 L1504.45 702.39 L1505.13 704.83 L1505.82 707.25 L1506.51 709.65 L1507.21 712.05 L1507.91 714.44 L1508.62 716.82 L1509.32 719.19 L1510.03 721.56 L1510.73 723.92 L1511.43 726.28 L1512.13 728.64 L1512.82 731 L1513.5 733.37 L1514.17 735.74 L1514.83 738.11 L1515.49 740.49 L1516.13 742.87 L1516.76 745.27 L1517.38 747.67 L1517.98 750.07 L1518.58 752.48 L1519.17 754.9 L1519.75 757.33 L1520.32 759.76 L1520.88 762.19 L1521.43 764.63 L1521.98 767.08 L1522.52 769.52 L1523.05 771.98 L1523.58 774.43 L1524.1 776.89 L1524.61 779.35 L1525.12 781.82 L1525.63 784.28 L1526.13 786.75 L1526.63 789.22 L1527.12 791.7 L1527.62 794.17 L1528.11 796.64 L1528.6 799.12 L1529.08 801.59 L1529.57 804.07 L1530.06 806.55 L1530.54 809.02 L1531.03 811.49 L1531.52 813.97 L1532.01 816.44 L1532.5 818.91 L1532.99 821.37 L1533.48 823.84 L1533.98 826.3 L1534.48 828.76 L1534.98 831.22 L1535.48 833.68 L1535.99 836.14 L1536.5 838.59 L1537 841.04 L1537.51 843.49 L1538.02 845.94 L1538.54 848.39 L1539.05 850.84 L1539.56 853.29 L1540.08 855.73 L1540.6 858.18 L1541.11 860.62 L1541.63 863.07 L1542.15 865.51 L1542.66 867.95 L1543.18 870.39 L1543.7 872.84 L1544.22 875.28 L1544.73 877.72 L1545.25 880.16 L1545.77 882.6 L1546.28 885.04 L1546.8 887.49 L1547.31 889.93 L1547.83 892.37 L1548.34 894.82 L1548.85 897.26 L1549.36 899.7 L1549.87 902.15 L1550.38 904.6 L1550.89 907.05 L1551.39 909.49 L1551.89 911.95 L1552.39 914.4 L1552.89 916.85 L1553.39 919.3 L1553.88 921.76 L1554.38 924.22 L1554.87 926.68 L1555.35 929.14 L1555.84 931.6 L1556.33 934.06 L1556.82 936.53 L1557.3 938.99 L1557.79 941.46 L1558.28 943.92 L1558.76 946.39 L1559.25 948.85 L1559.74 951.32 L1560.24 953.79 L1560.73 956.25 L1561.23 958.72 L1561.73 961.18 L1562.23 963.65 L1562.74 966.11 L1563.25 968.57 L1563.76 971.04 L1564.28 973.5 L1564.8 975.96 L1565.33 978.41 L1565.86 980.87 L1566.4 983.32 L1566.95 985.78 L1567.5 988.23 L1568.06 990.68 L1568.62 993.12 L1569.19 995.57 L1569.78 998.01 L1570.36 1000.45 L1570.96 1002.89 L1571.56 1005.32 L1572.18 1007.75 L1572.8 1010.18 L1573.43 1012.6 L1574.08 1015.02 L1574.73 1017.44 L1575.39 1019.85 L1576.07 1022.26 L1576.75 1024.67 L1577.45 1027.07 L1578.16 1029.47 L1578.88 1031.86 L1579.61 1034.25 L1580.36 1036.64 L1581.12 1039.01 L1581.89 1041.39 L1582.68 1043.76 L1583.48 1046.12 L1584.29 1048.48 L1585.12 1050.83 L1585.97 1053.18 L1586.83 1055.52 L1587.7 1057.86 L1588.59 1060.19 L1589.5 1062.52 L1590.43 1064.83 L1591.37 1067.14 L1592.33 1069.45 L1593.31 1071.75 L1594.3 1074.04 L1595.32 1076.32 L1596.35 1078.59 L1597.41 1080.86 L1598.49 1083.11 L1599.6 1085.35 L1600.73 1087.58 L1601.88 1089.79 L1603.07 1091.99 L1604.28 1094.17 L1605.52 1096.34 L1606.79 1098.49 L1608.09 1100.62 L1609.43 1102.73 L1610.8 1104.83 L1612.2 1106.9 L1613.64 1108.95 L1615.11 1110.98 L1616.63 1112.98 L1618.18 1114.96 L1619.77 1116.92 L1621.4 1118.85 L1623.08 1120.75 L1624.8 1122.62 L1626.56 1124.46 L1628.36 1126.26 L1630.2 1128.01 L1632.09 1129.71 L1634.02 1131.36 L1635.99 1132.95 L1638 1134.47 L1640.05 1135.92 L1642.15 1137.29 L1644.28 1138.59 L1646.46 1139.8 L1648.68 1140.91 L1650.94 1141.94 L1653.24 1142.86 L1655.58 1143.67 L1657.95 1144.39 L1660.36 1145.03 L1662.79 1145.6 L1665.24 1146.11 L1667.71 1146.56 L1670.2 1146.99 L1672.68 1147.39 L1675.17 1147.77 L1677.66 1148.15 L1680.14 1148.53 L1682.62 1148.89 L1685.11 1149.25 L1687.59 1149.59 L1690.07 1149.93 L1692.55 1150.25 L1695.03 1150.55 L1697.52 1150.85 L1700 1151.12 L1702.49 1151.38 L1704.97 1151.63 L1707.46 1151.85 L1709.95 1152.05 L1712.45 1152.23 L1714.94 1152.39 L1717.44 1152.52 L1719.95 1152.63 L1722.46 1152.71 L1724.97 1152.77 L1727.48 1152.8 L1730.01 1152.8 L1740 1152.7" stroke="#000000" stroke-width="3.81" fill="none" stroke-linejoin="round"/>
<path d="M1335 1152.7 L1338.38 1152.54 L1340.9 1152.43 L1343.43 1152.34 L1345.96 1152.27 L1348.49 1152.22 L1351.03 1152.18 L1353.57 1152.16 L1356.1 1152.14 L1358.64 1152.13 L1361.18 1152.12 L1363.73 1152.12 L1366.27 1152.12 L1368.81 1152.11 L1371.35 1152.09 L1373.88 1152.07 L1376.42 1152.04 L1378.95 1152 L1381.48 1151.94 L1384.01 1151.86 L1386.54 1151.76 L1389.06 1151.64 L1391.57 1151.49 L1394.08 1151.31 L1396.59 1151.11 L1399.09 1150.87 L1401.58 1150.59 L1404.07 1150.28 L1406.54 1149.93 L1409.02 1149.53 L1411.48 1149.09 L1413.94 1148.6 L1416.38 1148.06 L1418.82 1147.47 L1421.25 1146.82 L1423.67 1146.11 L1426.07 1145.34 L1428.47 1144.52 L1430.86 1143.62 L1433.23 1142.66 L1435.59 1141.62 L1437.93 1140.52 L1440.23 1139.34 L1442.5 1138.09 L1444.73 1136.77 L1446.89 1135.37 L1448.99 1133.89 L1451.02 1132.33 L1452.97 1130.7 L1454.83 1128.99 L1456.59 1127.19 L1458.25 1125.32 L1459.82 1123.38 L1461.31 1121.37 L1462.73 1119.31 L1464.07 1117.19 L1465.36 1115.03 L1466.59 1112.83 L1467.77 1110.59 L1468.91 1108.33 L1470.02 1106.05 L1471.1 1103.75 L1472.16 1101.45 L1473.2 1099.14 L1474.23 1096.82 L1475.24 1094.5 L1476.24 1092.18 L1477.23 1089.85 L1478.2 1087.52 L1479.15 1085.18 L1480.09 1082.84 L1481.02 1080.49 L1481.93 1078.14 L1482.82 1075.79 L1483.71 1073.43 L1484.58 1071.07 L1485.44 1068.7 L1486.28 1066.33 L1487.11 1063.95 L1487.93 1061.57 L1488.74 1059.19 L1489.53 1056.8 L1490.31 1054.41 L1491.09 1052.02 L1491.84 1049.62 L1492.59 1047.22 L1493.33 1044.82 L1494.05 1042.41 L1494.77 1040 L1495.47 1037.59 L1496.16 1035.17 L1496.85 1032.75 L1497.52 1030.32 L1498.18 1027.9 L1498.84 1025.47 L1499.48 1023.04 L1500.12 1020.6 L1500.74 1018.16 L1501.36 1015.72 L1501.97 1013.28 L1502.57 1010.83 L1503.16 1008.38 L1503.74 1005.93 L1504.32 1003.48 L1504.89 1001.02 L1505.45 998.56 L1506 996.1 L1506.55 993.64 L1507.09 991.17 L1507.62 988.7 L1508.14 986.23 L1508.67 983.76 L1509.18 981.29 L1509.69 978.81 L1510.19 976.34 L1510.69 973.86 L1511.18 971.38 L1511.67 968.9 L1512.15 966.41 L1512.62 963.93 L1513.1 961.44 L1513.57 958.95 L1514.03 956.46 L1514.49 953.97 L1514.95 951.48 L1515.4 948.98 L1515.85 946.49 L1516.3 944 L1516.74 941.5 L1517.18 939 L1517.62 936.5 L1518.06 934 L1518.49 931.5 L1518.93 929 L1519.36 926.5 L1519.79 924 L1520.22 921.5 L1520.64 918.99 L1521.07 916.49 L1521.49 913.99 L1521.92 911.48 L1522.34 908.98 L1522.77 906.48 L1523.19 903.97 L1523.62 901.47 L1524.04 898.96 L1524.47 896.46 L1524.9 893.95 L1525.33 891.45 L1525.76 888.94 L1526.19 886.44 L1526.62 883.94 L1527.06 881.43 L1527.49 878.93 L1527.93 876.43 L1528.37 873.93 L1528.82 871.43 L1529.26 868.93 L1529.71 866.43 L1530.16 863.93 L1530.61 861.43 L1531.07 858.93 L1531.52 856.43 L1531.98 853.94 L1532.44 851.44 L1532.91 848.94 L1533.37 846.45 L1533.84 843.96 L1534.31 841.46 L1534.79 838.97 L1535.26 836.48 L1535.74 833.99 L1536.22 831.5 L1536.7 829.01 L1537.18 826.52 L1537.67 824.03 L1538.16 821.54 L1538.65 819.06 L1539.14 816.57 L1539.64 814.09 L1540.14 811.6 L1540.64 809.12 L1541.14 806.64 L1541.65 804.16 L1542.15 801.68 L1542.66 799.2 L1543.18 796.72 L1543.69 794.24 L1544.21 791.77 L1544.73 789.29 L1545.25 786.82 L1545.77 784.34 L1546.3 781.87 L1546.83 779.4 L1547.36 776.93 L1547.89 774.46 L1548.43 772 L1548.97 769.53 L1549.51 767.07 L1550.05 764.6 L1550.6 762.14 L1551.15 759.68 L1551.7 757.22 L1552.25 754.76 L1552.81 752.3 L1553.36 749.85 L1553.92 747.39 L1554.49 744.94 L1555.05 742.48 L1555.62 740.03 L1556.19 737.58 L1556.76 735.14 L1557.34 732.69 L1557.92 730.24 L1558.5 727.8 L1559.08 725.36 L1559.66 722.92 L1560.25 720.48 L1560.84 718.04 L1561.43 715.6 L1562.03 713.17 L1562.63 710.73 L1563.23 708.3 L1563.83 705.87 L1564.43 703.44 L1565.04 701.01 L1565.65 698.59 L1566.27 696.16 L1566.9 693.74 L1567.54 691.32 L1568.2 688.9 L1568.89 686.49 L1569.6 684.08 L1570.35 681.67 L1571.14 679.26 L1571.98 676.86 L1572.86 674.46 L1573.8 672.07 L1574.79 669.68 L1575.85 667.29 L1576.97 664.91 L1578.17 662.53 L1579.45 660.17 L1580.82 657.86 L1582.29 655.66 L1583.87 653.63 L1585.59 651.84 L1587.45 650.32 L1589.46 649.15 L1591.63 648.38 L1593.91 648.04 L1596.16 648.16 L1598.29 648.74 L1600.2 649.78 L1601.91 651.23 L1603.44 653 L1604.83 655.04 L1606.08 657.27 L1607.23 659.62 L1608.3 662.01 L1609.31 664.41 L1610.26 666.8 L1611.16 669.19 L1612.01 671.57 L1612.82 673.95 L1613.59 676.33 L1614.32 678.7 L1615.01 681.07 L1615.68 683.44 L1616.33 685.82 L1616.95 688.19 L1617.56 690.56 L1618.16 692.94 L1618.74 695.32 L1619.32 697.71 L1619.9 700.1 L1620.49 702.49 L1621.07 704.89 L1621.66 707.29 L1622.25 709.7 L1622.84 712.12 L1623.44 714.53 L1624.04 716.96 L1624.63 719.39 L1625.23 721.82 L1625.84 724.25 L1626.44 726.69 L1627.04 729.13 L1627.65 731.58 L1628.25 734.03 L1628.86 736.48 L1629.47 738.94 L1630.07 741.4 L1630.68 743.86 L1631.29 746.32 L1631.89 748.79 L1632.5 751.26 L1633.1 753.73 L1633.71 756.21 L1634.31 758.68 L1634.91 761.16 L1635.51 763.64 L1636.11 766.12 L1636.71 768.6 L1637.3 771.08 L1637.9 773.56 L1638.49 776.05 L1639.07 778.53 L1639.66 781.02 L1640.24 783.5 L1640.82 785.99 L1641.39 788.48 L1641.97 790.96 L1642.53 793.45 L1643.1 795.93 L1643.66 798.42 L1644.22 800.9 L1644.77 803.39 L1645.32 805.87 L1645.86 808.35 L1646.4 810.83 L1646.94 813.31 L1647.47 815.79 L1648 818.27 L1648.52 820.75 L1649.04 823.22 L1649.56 825.7 L1650.08 828.18 L1650.59 830.65 L1651.1 833.13 L1651.61 835.6 L1652.12 838.08 L1652.62 840.55 L1653.12 843.02 L1653.62 845.5 L1654.11 847.97 L1654.61 850.44 L1655.1 852.91 L1655.59 855.38 L1656.08 857.85 L1656.57 860.32 L1657.06 862.79 L1657.55 865.26 L1658.03 867.73 L1658.52 870.19 L1659 872.66 L1659.48 875.13 L1659.97 877.6 L1660.45 880.06 L1660.93 882.53 L1661.41 885 L1661.89 887.46 L1662.38 889.93 L1662.86 892.39 L1663.34 894.86 L1663.83 897.32 L1664.31 899.79 L1664.8 902.25 L1665.28 904.72 L1665.77 907.18 L1666.26 909.65 L1666.75 912.11 L1667.24 914.58 L1667.74 917.04 L1668.23 919.51 L1668.73 921.97 L1669.23 924.44 L1669.73 926.9 L1670.23 929.37 L1670.74 931.83 L1671.24 934.3 L1671.76 936.76 L1672.27 939.23 L1672.79 941.69 L1673.31 944.16 L1673.83 946.62 L1674.35 949.09 L1674.88 951.56 L1675.42 954.02 L1675.95 956.49 L1676.49 958.96 L1677.04 961.42 L1677.59 963.89 L1678.14 966.36 L1678.7 968.83 L1679.26 971.3 L1679.82 973.76 L1680.4 976.23 L1680.97 978.7 L1681.55 981.17 L1682.14 983.64 L1682.73 986.11 L1683.32 988.59 L1683.93 991.06 L1684.53 993.53 L1685.15 996 L1685.77 998.48 L1686.39 1000.95 L1687.02 1003.42 L1687.66 1005.9 L1688.3 1008.37 L1688.95 1010.85 L1689.61 1013.33 L1690.27 1015.81 L1690.94 1018.28 L1691.62 1020.76 L1692.31 1023.24 L1693 1025.72 L1693.7 1028.2 L1694.41 1030.69 L1695.12 1033.17 L1695.84 1035.65 L1696.57 1038.14 L1697.31 1040.62 L1698.06 1043.11 L1698.81 1045.59 L1699.58 1048.07 L1700.36 1050.55 L1701.15 1053.03 L1701.95 1055.5 L1702.77 1057.97 L1703.61 1060.42 L1704.46 1062.87 L1705.33 1065.31 L1706.21 1067.73 L1707.12 1070.14 L1708.05 1072.54 L1709 1074.93 L1709.98 1077.29 L1710.97 1079.64 L1712 1081.97 L1713.05 1084.29 L1714.12 1086.57 L1715.23 1088.84 L1716.36 1091.09 L1717.53 1093.3 L1718.73 1095.5 L1719.96 1097.66 L1721.22 1099.8 L1722.52 1101.9 L1723.85 1103.98 L1725.22 1106.02 L1726.63 1108.03 L1728.08 1110.01 L1729.56 1111.95 L1731.09 1113.85 L1732.66 1115.71 L1734.28 1117.54 L1735.94 1119.32 L1737.64 1121.06 L1739.39 1122.76 L1741.19 1124.41 L1743.04 1126.02 L1744.93 1127.58 L1746.88 1129.09 L1748.88 1130.56 L1750.92 1131.97 L1753.02 1133.33 L1755.16 1134.65 L1757.35 1135.91 L1759.57 1137.12 L1761.83 1138.29 L1764.13 1139.4 L1766.45 1140.46 L1768.81 1141.47 L1771.19 1142.43 L1773.59 1143.33 L1776.02 1144.19 L1778.46 1145 L1780.92 1145.75 L1783.39 1146.45 L1785.87 1147.1 L1788.35 1147.7 L1790.84 1148.25 L1793.34 1148.74 L1795.83 1149.19 L1798.32 1149.58 L1800.81 1149.93 L1803.3 1150.24 L1805.79 1150.51 L1808.28 1150.74 L1810.77 1150.95 L1813.27 1151.12 L1815.76 1151.27 L1818.26 1151.39 L1820.76 1151.5 L1823.26 1151.59 L1825.77 1151.66 L1828.27 1151.73 L1830.79 1151.79 L1833.3 1151.85 L1835.82 1151.91 L1838.34 1151.97 L1840.87 1152.04 L1843.41 1152.11 L1845.95 1152.2 L1848.49 1152.31 L1851.04 1152.44 L1853.6 1152.59 L1856.16 1152.76 L1858.73 1152.97" stroke="#808080" stroke-width="3.81" fill="none" stroke-linejoin="round"/>
<path d="M303.06 464V153.8" stroke="#d3622a" stroke-width="7.62" stroke-dasharray="28.12 12.16" fill="none"/>
<path d="M454.13 464V153.8" stroke="#800080" stroke-width="2.54" stroke-dasharray="9.37 4.05" fill="none"/>
<path d="M687.17 464V153.8" stroke="#800080" stroke-width="2.54" stroke-dasharray="9.37 4.05" fill="none"/>
<path d="M512.39 464V153.8" stroke="#000000" stroke-width="2.54" stroke-dasharray="9.37 4.05" fill="none"/>
<path d="M628.91 464V153.8" stroke="#000000" stroke-width="2.54" stroke-dasharray="9.37 4.05" fill="none"/>
<path d="M570.65 464V153.8" stroke="#808080" stroke-width="5.08" stroke-dasharray="18.74 8.11" fill="none"/>
<path d="M303.06 1153.9V578.4" stroke="#d3622a" stroke-width="7.62" stroke-dasharray="28.12 12.16" fill="none"/>
<path d="M454.13 1153.9V578.4" stroke="#800080" stroke-width="2.54" stroke-dasharray="9.37 4.05" fill="none"/>
<path d="M687.17 1153.9V578.4" stroke="#800080" stroke-width="2.54" stroke-dasharray="9.37 4.05" fill="none"/>
<path d="M512.39 1153.9V578.4" stroke="#000000" stroke-width="2.54" stroke-dasharray="9.37 4.05" fill="none"/>
<path d="M628.91 1153.9V578.4" stroke="#000000" stroke-width="2.54" stroke-dasharray="9.37 4.05" fill="none"/>
<path d="M570.65 1153.9V578.4" stroke="#808080" stroke-width="5.08" stroke-dasharray="18.74 8.11" fill="none"/>
<path d="M1327.09 464V153.8" stroke="#d3622a" stroke-width="7.62" stroke-dasharray="28.12 12.16" fill="none"/>
<path d="M1476.6 464V153.8" stroke="#800080" stroke-width="2.54" stroke-dasharray="9.37 4.05" fill="none"/>
<path d="M1713.3 464V153.8" stroke="#800080" stroke-width="2.54" stroke-dasharray="9.37 4.05" fill="none"/>
<path d="M1535.78 464V153.8" stroke="#000000" stroke-width="2.54" stroke-dasharray="9.37 4.05" fill="none"/>
<path d="M1654.12 464V153.8" stroke="#000000" stroke-width="2.54" stroke-dasharray="9.37 4.05" fill="none"/>
<path d="M1594.95 464V153.8" stroke="#808080" stroke-width="5.08" stroke-dasharray="18.74 8.11" fill="none"/>
<path d="M1327.09 1153.9V578.4" stroke="#d3622a" stroke-width="7.62" stroke-dasharray="28.12 12.16" fill="none"/>
<path d="M1476.6 1153.9V578.4" stroke="#800080" stroke-width="2.54" stroke-dasharray="9.37 4.05" fill="none"/>
<path d="M1713.3 1153.9V578.4" stroke="#800080" stroke-width="2.54" stroke-dasharray="9.37 4.05" fill="none"/>
<path d="M1535.78 1153.9V578.4" stroke="#000000" stroke-width="2.54" stroke-dasharray="9.37 4.05" fill="none"/>
<path d="M1654.12 1153.9V578.4" stroke="#000000" stroke-width="2.54" stroke-dasharray="9.37 4.05" fill="none"/>
<path d="M1594.95 1153.9V578.4" stroke="#808080" stroke-width="5.08" stroke-dasharray="18.74 8.11" fill="none"/>
<rect x="177.9" y="153.8" width="785.5" height="310.2" fill="none" stroke="#000" stroke-width="2.03" stroke-linejoin="miter"/>
<path d="M177.9 464V472.89M243.36 464V472.89M308.82 464V472.89M374.27 464V472.89M439.73 464V472.89M505.19 464V472.89M570.65 464V472.89M636.11 464V472.89M701.57 464V472.89M767.02 464V472.89M832.48 464V472.89M897.94 464V472.89M963.4 464V472.89" stroke="#000" stroke-width="2.03"/>
<path d="M190.99 464V469.08M204.08 464V469.08M217.18 464V469.08M230.27 464V469.08M256.45 464V469.08M269.54 464V469.08M282.63 464V469.08M295.73 464V469.08M321.91 464V469.08M335 464V469.08M348.09 464V469.08M361.18 464V469.08M387.37 464V469.08M400.46 464V469.08M413.55 464V469.08M426.64 464V469.08M452.83 464V469.08M465.92 464V469.08M479.01 464V469.08M492.1 464V469.08M518.28 464V469.08M531.38 464V469.08M544.47 464V469.08M557.56 464V469.08M583.74 464V469.08M596.83 464V469.08M609.92 464V469.08M623.02 464V469.08M649.2 464V469.08M662.29 464V469.08M675.38 464V469.08M688.48 464V469.08M714.66 464V469.08M727.75 464V469.08M740.84 464V469.08M753.93 464V469.08M780.12 464V469.08M793.21 464V469.08M806.3 464V469.08M819.39 464V469.08M845.57 464V469.08M858.67 464V469.08M871.76 464V469.08M884.85 464V469.08M911.03 464V469.08M924.12 464V469.08M937.22 464V469.08M950.31 464V469.08" stroke="#000" stroke-width="1.52"/>
<path d="M177.9 205.5H169.01M177.9 308.9H169.01M177.9 412.3H169.01" stroke="#000" stroke-width="2.03"/>
<rect x="177.9" y="578.4" width="785.5" height="575.5" fill="none" stroke="#000" stroke-width="2.03" stroke-linejoin="miter"/>
<path d="M177.9 1153.9V1162.79M243.36 1153.9V1162.79M308.82 1153.9V1162.79M374.27 1153.9V1162.79M439.73 1153.9V1162.79M505.19 1153.9V1162.79M570.65 1153.9V1162.79M636.11 1153.9V1162.79M701.57 1153.9V1162.79M767.02 1153.9V1162.79M832.48 1153.9V1162.79M897.94 1153.9V1162.79M963.4 1153.9V1162.79" stroke="#000" stroke-width="2.03"/>
<path d="M190.99 1153.9V1158.98M204.08 1153.9V1158.98M217.18 1153.9V1158.98M230.27 1153.9V1158.98M256.45 1153.9V1158.98M269.54 1153.9V1158.98M282.63 1153.9V1158.98M295.73 1153.9V1158.98M321.91 1153.9V1158.98M335 1153.9V1158.98M348.09 1153.9V1158.98M361.18 1153.9V1158.98M387.37 1153.9V1158.98M400.46 1153.9V1158.98M413.55 1153.9V1158.98M426.64 1153.9V1158.98M452.83 1153.9V1158.98M465.92 1153.9V1158.98M479.01 1153.9V1158.98M492.1 1153.9V1158.98M518.28 1153.9V1158.98M531.38 1153.9V1158.98M544.47 1153.9V1158.98M557.56 1153.9V1158.98M583.74 1153.9V1158.98M596.83 1153.9V1158.98M609.92 1153.9V1158.98M623.02 1153.9V1158.98M649.2 1153.9V1158.98M662.29 1153.9V1158.98M675.38 1153.9V1158.98M688.48 1153.9V1158.98M714.66 1153.9V1158.98M727.75 1153.9V1158.98M740.84 1153.9V1158.98M753.93 1153.9V1158.98M780.12 1153.9V1158.98M793.21 1153.9V1158.98M806.3 1153.9V1158.98M819.39 1153.9V1158.98M845.57 1153.9V1158.98M858.67 1153.9V1158.98M871.76 1153.9V1158.98M884.85 1153.9V1158.98M911.03 1153.9V1158.98M924.12 1153.9V1158.98M937.22 1153.9V1158.98M950.31 1153.9V1158.98" stroke="#000" stroke-width="1.52"/>
<path d="M177.9 1153.9H169.01M177.9 1038.8H169.01M177.9 923.7H169.01M177.9 808.6H169.01M177.9 693.5H169.01M177.9 578.4H169.01" stroke="#000" stroke-width="2.03"/>
<rect x="1202.2" y="153.8" width="785.4" height="310.2" fill="none" stroke="#000" stroke-width="2.03" stroke-linejoin="miter"/>
<path d="M1202.2 464V472.89M1267.66 464V472.89M1333.12 464V472.89M1398.58 464V472.89M1464.03 464V472.89M1529.49 464V472.89M1594.95 464V472.89M1660.41 464V472.89M1725.87 464V472.89M1791.33 464V472.89M1856.78 464V472.89M1922.24 464V472.89M1987.7 464V472.89" stroke="#000" stroke-width="2.03"/>
<path d="M1215.29 464V469.08M1228.38 464V469.08M1241.48 464V469.08M1254.57 464V469.08M1280.75 464V469.08M1293.84 464V469.08M1306.93 464V469.08M1320.03 464V469.08M1346.21 464V469.08M1359.3 464V469.08M1372.39 464V469.08M1385.48 464V469.08M1411.67 464V469.08M1424.76 464V469.08M1437.85 464V469.08M1450.94 464V469.08M1477.12 464V469.08M1490.22 464V469.08M1503.31 464V469.08M1516.4 464V469.08M1542.58 464V469.08M1555.68 464V469.08M1568.77 464V469.08M1581.86 464V469.08M1608.04 464V469.08M1621.13 464V469.08M1634.22 464V469.08M1647.32 464V469.08M1673.5 464V469.08M1686.59 464V469.08M1699.68 464V469.08M1712.78 464V469.08M1738.96 464V469.08M1752.05 464V469.08M1765.14 464V469.08M1778.23 464V469.08M1804.42 464V469.08M1817.51 464V469.08M1830.6 464V469.08M1843.69 464V469.08M1869.88 464V469.08M1882.97 464V469.08M1896.06 464V469.08M1909.15 464V469.08M1935.33 464V469.08M1948.43 464V469.08M1961.52 464V469.08M1974.61 464V469.08" stroke="#000" stroke-width="1.52"/>
<path d="M1202.2 192.58H1193.31M1202.2 270.12H1193.31M1202.2 347.68H1193.31M1202.2 425.23H1193.31" stroke="#000" stroke-width="2.03"/>
<rect x="1202.2" y="578.4" width="785.4" height="575.5" fill="none" stroke="#000" stroke-width="2.03" stroke-linejoin="miter"/>
<path d="M1202.2 1153.9V1162.79M1267.66 1153.9V1162.79M1333.12 1153.9V1162.79M1398.58 1153.9V1162.79M1464.03 1153.9V1162.79M1529.49 1153.9V1162.79M1594.95 1153.9V1162.79M1660.41 1153.9V1162.79M1725.87 1153.9V1162.79M1791.33 1153.9V1162.79M1856.78 1153.9V1162.79M1922.24 1153.9V1162.79M1987.7 1153.9V1162.79" stroke="#000" stroke-width="2.03"/>
<path d="M1215.29 1153.9V1158.98M1228.38 1153.9V1158.98M1241.48 1153.9V1158.98M1254.57 1153.9V1158.98M1280.75 1153.9V1158.98M1293.84 1153.9V1158.98M1306.93 1153.9V1158.98M1320.03 1153.9V1158.98M1346.21 1153.9V1158.98M1359.3 1153.9V1158.98M1372.39 1153.9V1158.98M1385.48 1153.9V1158.98M1411.67 1153.9V1158.98M1424.76 1153.9V1158.98M1437.85 1153.9V1158.98M1450.94 1153.9V1158.98M1477.12 1153.9V1158.98M1490.22 1153.9V1158.98M1503.31 1153.9V1158.98M1516.4 1153.9V1158.98M1542.58 1153.9V1158.98M1555.68 1153.9V1158.98M1568.77 1153.9V1158.98M1581.86 1153.9V1158.98M1608.04 1153.9V1158.98M1621.13 1153.9V1158.98M1634.22 1153.9V1158.98M1647.32 1153.9V1158.98M1673.5 1153.9V1158.98M1686.59 1153.9V1158.98M1699.68 1153.9V1158.98M1712.78 1153.9V1158.98M1738.96 1153.9V1158.98M1752.05 1153.9V1158.98M1765.14 1153.9V1158.98M1778.23 1153.9V1158.98M1804.42 1153.9V1158.98M1817.51 1153.9V1158.98M1830.6 1153.9V1158.98M1843.69 1153.9V1158.98M1869.88 1153.9V1158.98M1882.97 1153.9V1158.98M1896.06 1153.9V1158.98M1909.15 1153.9V1158.98M1935.33 1153.9V1158.98M1948.43 1153.9V1158.98M1961.52 1153.9V1158.98M1974.61 1153.9V1158.98" stroke="#000" stroke-width="1.52"/>
<path d="M1202.2 1153.9H1193.31M1202.2 1038.8H1193.31M1202.2 923.7H1193.31M1202.2 808.6H1193.31M1202.2 693.5H1193.31M1202.2 578.4H1193.31" stroke="#000" stroke-width="2.03"/>
<g font-family="DejaVu Sans" fill="#000">
<text x="393.67" y="31.1" font-size="40.6">Observed versus simulated % decline in May-Oct SWWA rainfall</text>
<text x="701.05" y="76.6" font-size="40.6">(2001-2020 relative to 1901-1960)</text>
<text x="177.9" y="138.7" font-size="35.56">a) CMIP5 forced simulations</text>
<text x="177.9" y="563.3" font-size="35.56">b) CMIP5 preindustrial runs</text>
<text x="1202.2" y="138.7" font-size="35.56">c) CMIP6 forced simulations</text>
<text x="1202.2" y="563.3" font-size="35.56">d) CMIP6 preindustrial runs</text>
<text x="155.4" y="219" font-size="35.56" text-anchor="end">RCP8.5</text>
<text x="155.4" y="322.4" font-size="35.56" text-anchor="end">RCP4.5</text>
<text x="155.4" y="425.8" font-size="35.56" text-anchor="end">RCP2.6</text>
<text x="1179.7" y="206.08" font-size="35.56" text-anchor="end">SSP5.85</text>
<text x="1179.7" y="283.62" font-size="35.56" text-anchor="end">SSP3.70</text>
<text x="1179.7" y="361.18" font-size="35.56" text-anchor="end">SSP2.45</text>
<text x="1179.7" y="438.73" font-size="35.56" text-anchor="end">SSP1.26</text>
<text x="155.4" y="1167.5" font-size="35.56" text-anchor="end">0.00</text>
<text x="155.4" y="1052.4" font-size="35.56" text-anchor="end">0.02</text>
<text x="155.4" y="937.3" font-size="35.56" text-anchor="end">0.04</text>
<text x="155.4" y="822.2" font-size="35.56" text-anchor="end">0.06</text>
<text x="155.4" y="707.1" font-size="35.56" text-anchor="end">0.08</text>
<text x="155.4" y="592" font-size="35.56" text-anchor="end">0.10</text>
<text x="177.9" y="1204.7" font-size="35.56" text-anchor="middle">−30</text>
<text x="243.36" y="1204.7" font-size="35.56" text-anchor="middle">−25</text>
<text x="308.82" y="1204.7" font-size="35.56" text-anchor="middle">−20</text>
<text x="374.27" y="1204.7" font-size="35.56" text-anchor="middle">−15</text>
<text x="439.73" y="1204.7" font-size="35.56" text-anchor="middle">−10</text>
<text x="505.19" y="1204.7" font-size="35.56" text-anchor="middle">−5</text>
<text x="570.65" y="1204.7" font-size="35.56" text-anchor="middle">0</text>
<text x="636.11" y="1204.7" font-size="35.56" text-anchor="middle">5</text>
<text x="701.57" y="1204.7" font-size="35.56" text-anchor="middle">10</text>
<text x="767.02" y="1204.7" font-size="35.56" text-anchor="middle">15</text>
<text x="832.48" y="1204.7" font-size="35.56" text-anchor="middle">20</text>
<text x="897.94" y="1204.7" font-size="35.56" text-anchor="middle">25</text>
<text x="963.4" y="1204.7" font-size="35.56" text-anchor="middle">30</text>
<text x="570.65" y="1267.8" font-size="40.64" text-anchor="middle">Percentage change in rainfall</text>
<text x="1179.7" y="1167.5" font-size="35.56" text-anchor="end">0.00</text>
<text x="1179.7" y="1052.4" font-size="35.56" text-anchor="end">0.02</text>
<text x="1179.7" y="937.3" font-size="35.56" text-anchor="end">0.04</text>
<text x="1179.7" y="822.2" font-size="35.56" text-anchor="end">0.06</text>
<text x="1179.7" y="707.1" font-size="35.56" text-anchor="end">0.08</text>
<text x="1179.7" y="592" font-size="35.56" text-anchor="end">0.10</text>
<text x="1202.2" y="1204.7" font-size="35.56" text-anchor="middle">−30</text>
<text x="1267.66" y="1204.7" font-size="35.56" text-anchor="middle">−25</text>
<text x="1333.12" y="1204.7" font-size="35.56" text-anchor="middle">−20</text>
<text x="1398.58" y="1204.7" font-size="35.56" text-anchor="middle">−15</text>
<text x="1464.03" y="1204.7" font-size="35.56" text-anchor="middle">−10</text>
<text x="1529.49" y="1204.7" font-size="35.56" text-anchor="middle">−5</text>
<text x="1594.95" y="1204.7" font-size="35.56" text-anchor="middle">0</text>
<text x="1660.41" y="1204.7" font-size="35.56" text-anchor="middle">5</text>
<text x="1725.87" y="1204.7" font-size="35.56" text-anchor="middle">10</text>
<text x="1791.33" y="1204.7" font-size="35.56" text-anchor="middle">15</text>
<text x="1856.78" y="1204.7" font-size="35.56" text-anchor="middle">20</text>
<text x="1922.24" y="1204.7" font-size="35.56" text-anchor="middle">25</text>
<text x="1987.7" y="1204.7" font-size="35.56" text-anchor="middle">30</text>
<text x="1594.9" y="1267.8" font-size="40.64" text-anchor="middle">Percentage change in rainfall</text>
<text transform="translate(30.9 866.15) rotate(-90)" x="0" y="0" font-size="40.64" text-anchor="middle">Density</text>
<text x="786.54" y="205.1" font-size="25.4">[96 % of 24]</text>
<text x="786.54" y="308.5" font-size="25.4">[96 % of 24]</text>
<text x="786.54" y="411.9" font-size="25.4">[100 % of 19]</text>
<text x="1823.54" y="192.4" font-size="25.4">[96 % of 26]</text>
<text x="1823.54" y="270" font-size="25.4">[91 % of 22]</text>
<text x="1823.54" y="347.6" font-size="25.4">[92 % of 25]</text>
<text x="1823.54" y="425.1" font-size="25.4">[96 % of 24]</text>
<text x="766.35" y="774.9" font-size="30.48">Internal</text>
<text x="767.99" y="808.6" font-size="30.48">variability</text>
<text x="747.2" y="894.6" font-size="30.48" font-style="italic">σ</text>
<text x="766.8" y="899.2" font-size="21" font-style="italic">PDF</text>
<text x="818.3" y="894.6" font-size="30.48">=</text>
<text x="853.8" y="894.6" font-size="30.48">4.45</text>
<text x="1790.65" y="774.9" font-size="30.48">Internal</text>
<text x="1792.29" y="808.6" font-size="30.48">variability</text>
<text x="1771.5" y="894.6" font-size="30.48" font-style="italic">σ</text>
<text x="1791.1" y="899.2" font-size="21" font-style="italic">PDF</text>
<text x="1842.6" y="894.6" font-size="30.48">=</text>
<text x="1878.1" y="894.6" font-size="30.48">4.52</text>
</g>
</svg>
</body></html>
